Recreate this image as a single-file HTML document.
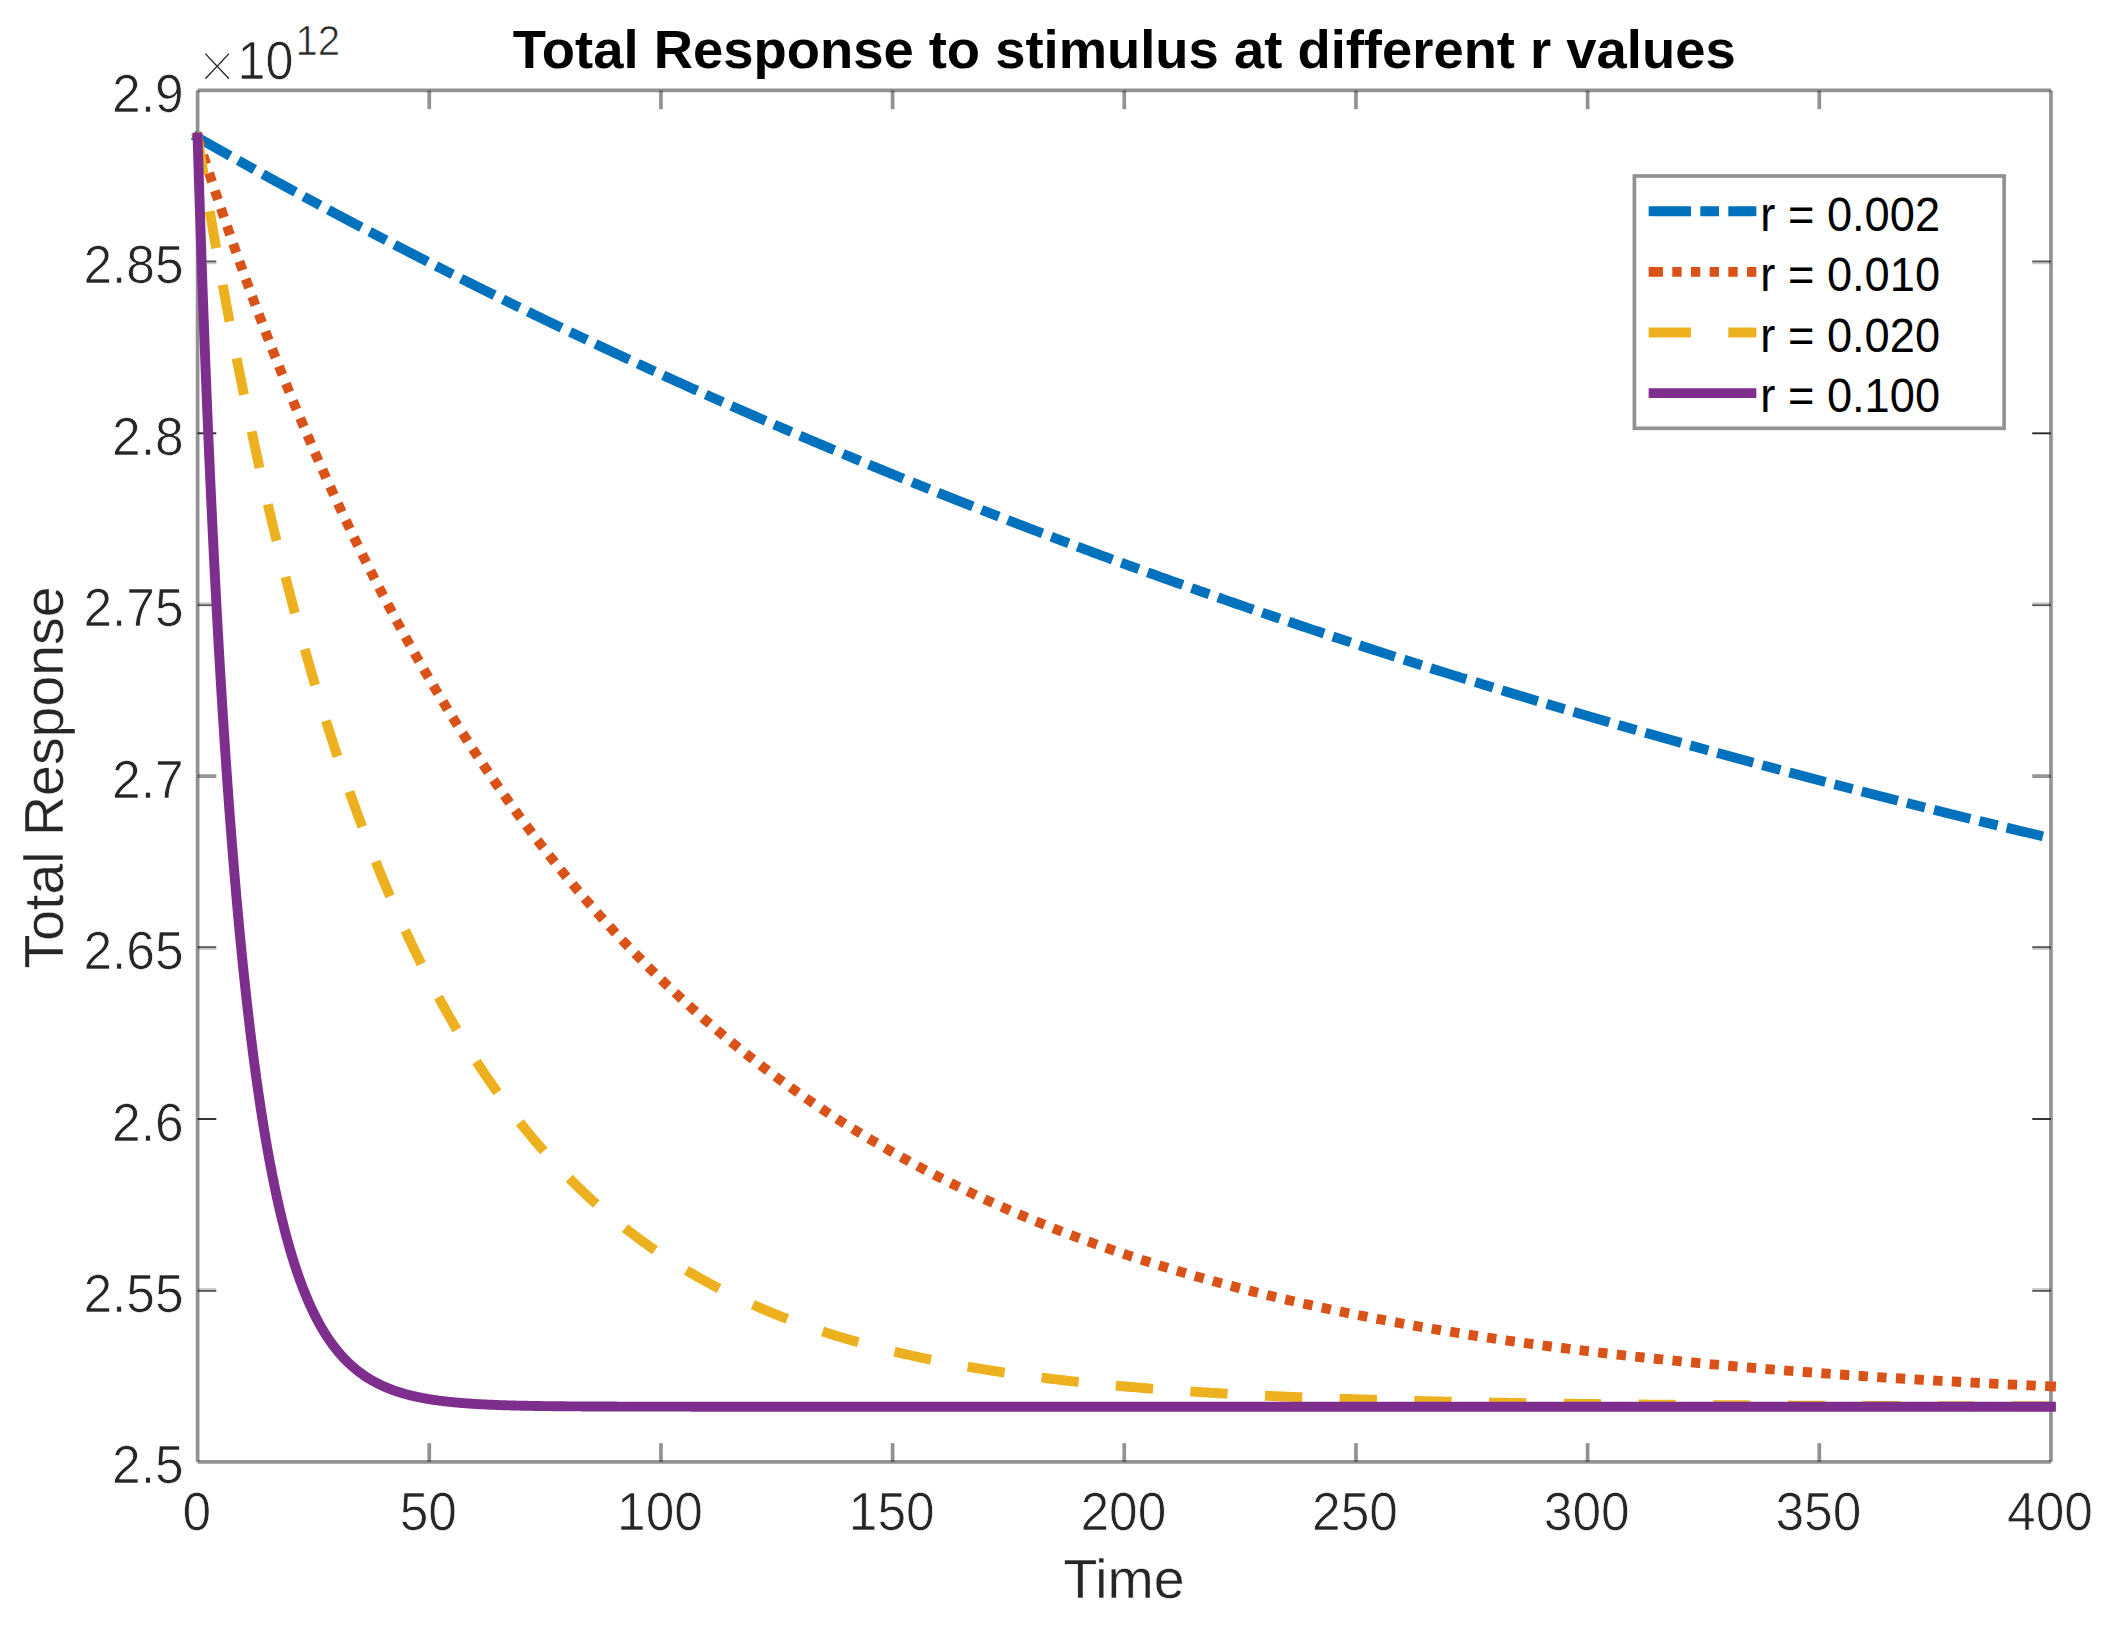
<!DOCTYPE html>
<html lang="en"><head><meta charset="utf-8"><title>Total Response to stimulus at different r values</title>
<style>
html,body{margin:0;padding:0;background:#fff;}
body{width:2121px;height:1630px;overflow:hidden;}
svg{display:block;}
text{font-family:"Liberation Sans",Arial,Helvetica,sans-serif;stroke:#fff;stroke-width:0.7;}
.tk{font-size:50px;fill:#262626;}
.lab{font-size:55px;fill:#262626;stroke-width:0.35;}
.ttl{font-size:54.4px;font-weight:bold;fill:#000;stroke:none;}
.leg{font-size:45px;fill:#000;stroke:none;}
.ax{stroke:#262626;stroke-opacity:0.5;stroke-width:3.7;fill:none;}
.ln{fill:none;stroke-width:9.9;stroke-linejoin:round;}
</style></head><body>
<svg width="2121" height="1630" viewBox="0 0 2121 1630">
<rect x="0" y="0" width="2121" height="1630" fill="#fff"/>

<g class="ax">
<line x1="197.6" y1="1461.87" x2="2050.95" y2="1461.87"/>
<line x1="197.6" y1="90.45" x2="2050.95" y2="90.45"/>
<line x1="197.6" y1="90.45" x2="197.6" y2="1461.87"/>
<line x1="2050.95" y1="90.45" x2="2050.95" y2="1461.87"/>
<line x1="429.27" y1="1461.87" x2="429.27" y2="1443.17"/>
<line x1="429.27" y1="90.45" x2="429.27" y2="109.15"/>
<line x1="660.94" y1="1461.87" x2="660.94" y2="1443.17"/>
<line x1="660.94" y1="90.45" x2="660.94" y2="109.15"/>
<line x1="892.61" y1="1461.87" x2="892.61" y2="1443.17"/>
<line x1="892.61" y1="90.45" x2="892.61" y2="109.15"/>
<line x1="1124.27" y1="1461.87" x2="1124.27" y2="1443.17"/>
<line x1="1124.27" y1="90.45" x2="1124.27" y2="109.15"/>
<line x1="1355.94" y1="1461.87" x2="1355.94" y2="1443.17"/>
<line x1="1355.94" y1="90.45" x2="1355.94" y2="109.15"/>
<line x1="1587.61" y1="1461.87" x2="1587.61" y2="1443.17"/>
<line x1="1587.61" y1="90.45" x2="1587.61" y2="109.15"/>
<line x1="1819.28" y1="1461.87" x2="1819.28" y2="1443.17"/>
<line x1="1819.28" y1="90.45" x2="1819.28" y2="109.15"/>
</g>
<rect x="197.60" y="1288.09" width="18.70" height="1.868" fill="#262626" fill-opacity="0.24"/>
<rect x="2032.25" y="1288.09" width="18.70" height="1.868" fill="#262626" fill-opacity="0.24"/>
<rect x="197.60" y="1289.96" width="18.70" height="1.868" fill="#262626" fill-opacity="0.76"/>
<rect x="2032.25" y="1289.96" width="18.70" height="1.868" fill="#262626" fill-opacity="0.76"/>
<rect x="197.60" y="1118.07" width="18.70" height="1.868" fill="#262626" fill-opacity="0.99"/>
<rect x="2032.25" y="1118.07" width="18.70" height="1.868" fill="#262626" fill-opacity="0.99"/>
<rect x="197.60" y="946.18" width="18.70" height="1.868" fill="#262626" fill-opacity="0.75"/>
<rect x="2032.25" y="946.18" width="18.70" height="1.868" fill="#262626" fill-opacity="0.75"/>
<rect x="197.60" y="948.05" width="18.70" height="1.868" fill="#262626" fill-opacity="0.25"/>
<rect x="2032.25" y="948.05" width="18.70" height="1.868" fill="#262626" fill-opacity="0.25"/>
<rect x="197.60" y="774.28" width="18.70" height="1.868" fill="#262626" fill-opacity="0.50"/>
<rect x="2032.25" y="774.28" width="18.70" height="1.868" fill="#262626" fill-opacity="0.50"/>
<rect x="197.60" y="776.15" width="18.70" height="1.868" fill="#262626" fill-opacity="0.50"/>
<rect x="2032.25" y="776.15" width="18.70" height="1.868" fill="#262626" fill-opacity="0.50"/>
<rect x="197.60" y="602.39" width="18.70" height="1.868" fill="#262626" fill-opacity="0.25"/>
<rect x="2032.25" y="602.39" width="18.70" height="1.868" fill="#262626" fill-opacity="0.25"/>
<rect x="197.60" y="604.26" width="18.70" height="1.868" fill="#262626" fill-opacity="0.75"/>
<rect x="2032.25" y="604.26" width="18.70" height="1.868" fill="#262626" fill-opacity="0.75"/>
<rect x="197.60" y="432.37" width="18.70" height="1.868" fill="#262626" fill-opacity="1.00"/>
<rect x="2032.25" y="432.37" width="18.70" height="1.868" fill="#262626" fill-opacity="1.00"/>
<rect x="197.60" y="260.47" width="18.70" height="1.868" fill="#262626" fill-opacity="0.75"/>
<rect x="2032.25" y="260.47" width="18.70" height="1.868" fill="#262626" fill-opacity="0.75"/>
<rect x="197.60" y="262.34" width="18.70" height="1.868" fill="#262626" fill-opacity="0.25"/>
<rect x="2032.25" y="262.34" width="18.70" height="1.868" fill="#262626" fill-opacity="0.25"/>
<text class="tk" transform="translate(196.70,1530.00) scale(1.03,1.06)" text-anchor="middle">0</text>
<text class="tk" transform="translate(428.37,1530.00) scale(1.03,1.06)" text-anchor="middle">50</text>
<text class="tk" transform="translate(660.04,1530.00) scale(1.03,1.06)" text-anchor="middle">100</text>
<text class="tk" transform="translate(891.71,1530.00) scale(1.03,1.06)" text-anchor="middle">150</text>
<text class="tk" transform="translate(1123.37,1530.00) scale(1.03,1.06)" text-anchor="middle">200</text>
<text class="tk" transform="translate(1355.04,1530.00) scale(1.03,1.06)" text-anchor="middle">250</text>
<text class="tk" transform="translate(1586.71,1530.00) scale(1.03,1.06)" text-anchor="middle">300</text>
<text class="tk" transform="translate(1818.38,1530.00) scale(1.03,1.06)" text-anchor="middle">350</text>
<text class="tk" transform="translate(2050.05,1530.00) scale(1.03,1.06)" text-anchor="middle">400</text>
<text class="tk" transform="translate(183.60,1483.47) scale(1.03,1.065)" text-anchor="end">2.5</text>
<text class="tk" transform="translate(183.60,1312.04) scale(1.03,1.065)" text-anchor="end">2.55</text>
<text class="tk" transform="translate(183.60,1140.61) scale(1.03,1.065)" text-anchor="end">2.6</text>
<text class="tk" transform="translate(183.60,969.19) scale(1.03,1.065)" text-anchor="end">2.65</text>
<text class="tk" transform="translate(183.60,797.76) scale(1.03,1.065)" text-anchor="end">2.7</text>
<text class="tk" transform="translate(183.60,626.33) scale(1.03,1.065)" text-anchor="end">2.75</text>
<text class="tk" transform="translate(183.60,454.91) scale(1.03,1.065)" text-anchor="end">2.8</text>
<text class="tk" transform="translate(183.60,283.48) scale(1.03,1.065)" text-anchor="end">2.85</text>
<text class="tk" transform="translate(183.60,112.05) scale(1.03,1.065)" text-anchor="end">2.9</text>
<text class="tk" transform="translate(196.00,83.20) scale(1,1.05)" text-anchor="start" style="font-family:'DejaVu Sans',sans-serif;font-weight:200;font-size:50.5px;stroke-width:1.1">×</text>
<text class="tk" transform="translate(237.50,79.30) scale(1.005,1.06)" text-anchor="start">10</text>
<text class="tk" transform="translate(295.50,55.20) scale(1.005,1.06)" text-anchor="start" style="font-size:40px">12</text>
<text class="lab" transform="translate(1124.00,1598.00) scale(1.008,1.02)" text-anchor="middle">Time</text>
<text class="lab" transform="translate(62.90,777.40) rotate(-90) scale(1.008,1.02)" text-anchor="middle">Total Response</text>
<text class="ttl" transform="translate(1124.20,68.00)" text-anchor="middle">Total Response to stimulus at different r values</text>
<path class="ln" d="M197.60 137.50 L197.83 137.63 L198.06 137.76 L198.30 137.90 L198.53 138.03 L198.76 138.16 L198.99 138.29 L199.22 138.42 L199.45 138.56 L199.69 138.69 L199.92 138.82 L200.15 138.95 L200.38 139.08 L200.61 139.22 L200.85 139.35 L201.08 139.48 L201.31 139.61 L201.54 139.75 L201.78 139.88 L202.01 140.01 L202.24 140.14 L202.47 140.28 L202.71 140.41 L202.94 140.54 L203.17 140.67 L203.41 140.81 L203.64 140.94 L203.87 141.07 L204.11 141.20 L204.34 141.34 L204.57 141.47 L204.81 141.60 L205.04 141.74 L205.28 141.87 L205.51 142.00 L205.75 142.14 L205.98 142.27 L206.22 142.40 L206.45 142.54 L206.69 142.67 L206.93 142.81 L207.16 142.94 L207.40 143.07 L207.63 143.21 L207.87 143.34 L208.11 143.48 L208.35 143.61 L208.58 143.75 L208.82 143.88 L209.06 144.02 L209.30 144.15 L209.54 144.29 L209.77 144.42 L210.01 144.56 L210.25 144.69 L210.49 144.83 L210.73 144.96 L210.97 145.10 L211.21 145.24 L211.46 145.37 L211.70 145.51 L211.94 145.65 L212.18 145.78 L212.42 145.92 L212.67 146.06 L212.91 146.20 L213.15 146.33 L213.40 146.47 L213.64 146.61 L213.88 146.75 L214.13 146.89 L214.37 147.03 L214.62 147.17 L214.87 147.30 L215.11 147.44 L215.36 147.58 L215.61 147.72 L215.85 147.86 L216.10 148.00 L216.35 148.14 L216.60 148.28 L216.85 148.43 L217.10 148.57 L217.35 148.71 L217.60 148.85 L217.85 148.99 L218.10 149.13 L218.36 149.28 L218.61 149.42 L218.86 149.56 L219.11 149.70 L219.37 149.85 L219.62 149.99 L219.88 150.13 L220.13 150.28 L220.39 150.42 L220.65 150.57 L220.90 150.71 L221.16 150.86 L221.42 151.00 L221.68 151.15 L221.94 151.30 L222.20 151.44 L222.46 151.59 L222.72 151.74 L222.98 151.88 L223.24 152.03 L223.51 152.18 L223.77 152.33 L224.03 152.48 L224.30 152.62 L224.56 152.77 L224.83 152.92 L225.09 153.07 L225.36 153.22 L225.63 153.37 L225.90 153.52 L226.17 153.68 L226.43 153.83 L226.70 153.98 L226.98 154.13 L227.25 154.28 L227.52 154.44 L227.79 154.59 L228.07 154.74 L228.34 154.90 L228.61 155.05 L228.89 155.21 L229.17 155.36 L229.44 155.52 L229.72 155.67 L230.00 155.83 L230.28 155.99 L230.56 156.14 L230.84 156.30 L231.12 156.46 L231.40 156.62 L231.68 156.77 L231.97 156.93 L232.25 157.09 L232.54 157.25 L232.82 157.41 L233.11 157.57 L233.39 157.73 L233.68 157.90 L233.97 158.06 L234.26 158.22 L234.55 158.38 L234.84 158.55 L235.13 158.71 L235.43 158.87 L235.72 159.04 L236.02 159.20 L236.31 159.37 L236.61 159.53 L236.90 159.70 L237.20 159.87 L237.50 160.03 L237.80 160.20 L238.10 160.37 L238.40 160.54 L238.70 160.71 L239.01 160.87 L239.31 161.04 L239.61 161.21 L239.92 161.39 L240.23 161.56 L240.53 161.73 L240.84 161.90 L241.15 162.07 L241.46 162.25 L241.77 162.42 L242.09 162.59 L242.40 162.77 L242.71 162.94 L243.03 163.12 L243.34 163.30 L243.66 163.47 L243.98 163.65 L244.30 163.83 L244.62 164.01 L244.94 164.19 L245.26 164.36 L245.58 164.54 L245.91 164.72 L246.23 164.91 L246.56 165.09 L246.88 165.27 L247.21 165.45 L247.54 165.63 L247.87 165.82 L248.20 166.00 L248.53 166.19 L248.87 166.37 L249.20 166.56 L249.54 166.74 L249.87 166.93 L250.21 167.12 L250.55 167.31 L250.89 167.50 L251.23 167.68 L251.57 167.87 L251.91 168.06 L252.26 168.26 L252.60 168.45 L252.95 168.64 L253.29 168.83 L253.64 169.03 L253.99 169.22 L254.34 169.41 L254.69 169.61 L255.05 169.80 L255.40 170.00 L255.76 170.20 L256.11 170.40 L256.47 170.59 L256.83 170.79 L257.19 170.99 L257.55 171.19 L257.91 171.39 L258.27 171.59 L258.64 171.80 L259.00 172.00 L259.37 172.20 L259.74 172.41 L260.11 172.61 L260.48 172.81 L260.85 173.02 L261.23 173.23 L261.60 173.43 L261.98 173.64 L262.35 173.85 L262.73 174.06 L263.11 174.27 L263.49 174.48 L263.87 174.69 L264.26 174.90 L264.64 175.11 L265.03 175.33 L265.41 175.54 L265.80 175.76 L266.19 175.97 L266.58 176.19 L266.98 176.40 L267.37 176.62 L267.77 176.84 L268.16 177.06 L268.56 177.28 L268.96 177.50 L269.36 177.72 L269.76 177.94 L270.17 178.16 L270.57 178.38 L270.98 178.61 L271.38 178.83 L271.79 179.05 L272.20 179.28 L272.61 179.51 L273.03 179.73 L273.44 179.96 L273.86 180.19 L274.27 180.42 L274.69 180.65 L275.11 180.88 L275.53 181.11 L275.96 181.34 L276.38 181.58 L276.81 181.81 L277.24 182.05 L277.66 182.28 L278.09 182.52 L278.53 182.75 L278.96 182.99 L279.39 183.23 L279.83 183.47 L280.27 183.71 L280.71 183.95 L281.15 184.19 L281.59 184.43 L282.03 184.68 L282.48 184.92 L282.93 185.16 L283.38 185.41 L283.83 185.65 L284.28 185.90 L284.73 186.15 L285.18 186.40 L285.64 186.65 L286.10 186.90 L286.56 187.15 L287.02 187.40 L287.48 187.65 L287.94 187.91 L288.41 188.16 L288.88 188.42 L289.35 188.67 L289.82 188.93 L290.29 189.18 L290.76 189.44 L291.24 189.70 L291.72 189.96 L292.19 190.22 L292.67 190.48 L293.16 190.75 L293.64 191.01 L294.13 191.27 L294.61 191.54 L295.10 191.81 L295.59 192.07 L296.08 192.34 L296.58 192.61 L297.07 192.88 L297.57 193.15 L298.07 193.42 L298.57 193.69 L299.07 193.96 L299.57 194.24 L300.08 194.51 L300.59 194.79 L301.10 195.06 L301.61 195.34 L302.12 195.62 L302.63 195.90 L303.15 196.18 L303.67 196.46 L304.19 196.74 L304.71 197.02 L305.23 197.30 L305.76 197.59 L306.28 197.87 L306.81 198.16 L307.34 198.45 L307.88 198.73 L308.41 199.02 L308.95 199.31 L309.48 199.60 L310.02 199.89 L310.56 200.19 L311.11 200.48 L311.65 200.77 L312.20 201.07 L312.75 201.36 L313.30 201.66 L313.85 201.96 L314.41 202.26 L314.96 202.56 L315.52 202.86 L316.08 203.16 L316.64 203.46 L317.21 203.77 L317.77 204.07 L318.34 204.38 L318.91 204.68 L319.48 204.99 L320.05 205.30 L320.63 205.61 L321.21 205.92 L321.79 206.23 L322.37 206.54 L322.95 206.85 L323.54 207.17 L324.12 207.48 L324.71 207.80 L325.30 208.11 L325.90 208.43 L326.49 208.75 L327.09 209.07 L327.69 209.39 L328.29 209.71 L328.89 210.04 L329.50 210.36 L330.10 210.69 L330.71 211.01 L331.32 211.34 L331.94 211.67 L332.55 211.99 L333.17 212.32 L333.79 212.65 L334.41 212.99 L335.03 213.32 L335.66 213.65 L336.29 213.99 L336.92 214.32 L337.55 214.66 L338.18 215.00 L338.82 215.34 L339.46 215.68 L340.10 216.02 L340.74 216.36 L341.38 216.70 L342.03 217.05 L342.68 217.39 L343.33 217.74 L343.98 218.08 L344.64 218.43 L345.29 218.78 L345.95 219.13 L346.62 219.48 L347.28 219.83 L347.95 220.19 L348.61 220.54 L349.28 220.90 L349.96 221.25 L350.63 221.61 L351.31 221.97 L351.99 222.33 L352.67 222.69 L353.35 223.05 L354.04 223.41 L354.73 223.78 L355.42 224.14 L356.11 224.51 L356.80 224.88 L357.50 225.24 L358.20 225.61 L358.90 225.98 L359.61 226.35 L360.31 226.73 L361.02 227.10 L361.73 227.47 L362.44 227.85 L363.16 228.23 L363.88 228.60 L364.60 228.98 L365.32 229.36 L366.04 229.74 L366.77 230.13 L367.50 230.51 L368.23 230.89 L368.96 231.28 L369.70 231.66 L370.44 232.05 L371.18 232.44 L371.92 232.83 L372.67 233.22 L373.42 233.61 L374.17 234.01 L374.92 234.40 L375.68 234.80 L376.43 235.19 L377.19 235.59 L377.96 235.99 L378.72 236.39 L379.49 236.79 L380.26 237.19 L381.03 237.59 L381.80 238.00 L382.58 238.40 L383.36 238.81 L384.14 239.22 L384.93 239.62 L385.71 240.03 L386.50 240.45 L387.29 240.86 L388.09 241.27 L388.88 241.68 L389.68 242.10 L390.49 242.52 L391.29 242.93 L392.10 243.35 L392.90 243.77 L393.72 244.19 L394.53 244.62 L395.35 245.04 L396.17 245.46 L396.99 245.89 L397.81 246.32 L398.64 246.74 L399.47 247.17 L400.30 247.60 L401.14 248.04 L401.97 248.47 L402.81 248.90 L403.65 249.34 L404.50 249.77 L405.35 250.21 L406.20 250.65 L407.05 251.09 L407.90 251.53 L408.76 251.97 L409.62 252.41 L410.49 252.86 L411.35 253.30 L412.22 253.75 L413.09 254.20 L413.97 254.65 L414.84 255.10 L415.72 255.55 L416.60 256.00 L417.49 256.45 L418.37 256.91 L419.26 257.36 L420.16 257.82 L421.05 258.28 L421.95 258.74 L422.85 259.20 L423.75 259.66 L424.66 260.12 L425.57 260.59 L426.48 261.05 L427.39 261.52 L428.31 261.99 L429.23 262.46 L430.15 262.93 L431.08 263.40 L432.00 263.87 L432.93 264.35 L433.87 264.82 L434.80 265.30 L435.74 265.77 L436.68 266.25 L437.63 266.73 L438.58 267.21 L439.53 267.70 L440.48 268.18 L441.43 268.66 L442.39 269.15 L443.35 269.64 L444.32 270.12 L445.28 270.61 L446.25 271.10 L447.23 271.60 L448.20 272.09 L449.18 272.58 L450.16 273.08 L451.15 273.58 L452.13 274.07 L453.12 274.57 L454.12 275.07 L455.11 275.57 L456.11 276.08 L457.11 276.58 L458.12 277.09 L459.12 277.59 L460.13 278.10 L461.15 278.61 L462.16 279.12 L463.18 279.63 L464.20 280.14 L465.23 280.66 L466.25 281.17 L467.29 281.69 L468.32 282.21 L469.36 282.72 L470.40 283.24 L471.44 283.76 L472.48 284.29 L473.53 284.81 L474.58 285.34 L475.64 285.86 L476.70 286.39 L477.76 286.92 L478.82 287.45 L479.89 287.98 L480.96 288.51 L482.03 289.04 L483.10 289.58 L484.18 290.11 L485.26 290.65 L486.35 291.19 L487.44 291.73 L488.53 292.27 L489.62 292.81 L490.72 293.35 L491.82 293.90 L492.92 294.44 L494.03 294.99 L495.14 295.54 L496.25 296.09 L497.37 296.64 L498.48 297.19 L499.61 297.74 L500.73 298.30 L501.86 298.85 L502.99 299.41 L504.12 299.97 L505.26 300.53 L506.40 301.09 L507.55 301.65 L508.69 302.21 L509.84 302.78 L511.00 303.34 L512.15 303.91 L513.31 304.48 L514.48 305.05 L515.64 305.62 L516.81 306.19 L517.98 306.76 L519.16 307.34 L520.34 307.91 L521.52 308.49 L522.71 309.07 L523.89 309.65 L525.09 310.23 L526.28 310.81 L527.48 311.39 L528.68 311.98 L529.89 312.56 L531.09 313.15 L532.31 313.74 L533.52 314.33 L534.74 314.92 L535.96 315.51 L537.18 316.10 L538.41 316.70 L539.64 317.29 L540.88 317.89 L542.11 318.49 L543.36 319.09 L544.60 319.69 L545.85 320.29 L547.10 320.89 L548.35 321.49 L549.61 322.10 L550.87 322.71 L552.14 323.31 L553.40 323.92 L554.67 324.53 L555.95 325.15 L557.23 325.76 L558.51 326.37 L559.79 326.99 L561.08 327.61 L562.37 328.22 L563.67 328.84 L564.97 329.46 L566.27 330.08 L567.57 330.71 L568.88 331.33 L570.19 331.96 L571.51 332.58 L572.83 333.21 L574.15 333.84 L575.48 334.47 L576.81 335.10 L578.14 335.74 L579.47 336.37 L580.81 337.00 L582.16 337.64 L583.50 338.28 L584.85 338.92 L586.21 339.56 L587.56 340.20 L588.93 340.84 L590.29 341.49 L591.66 342.13 L593.03 342.78 L594.40 343.43 L595.78 344.08 L597.16 344.73 L598.55 345.38 L599.94 346.03 L601.33 346.68 L602.73 347.34 L604.13 348.00 L605.53 348.65 L606.94 349.31 L608.35 349.97 L609.76 350.63 L611.18 351.30 L612.60 351.96 L614.02 352.62 L615.45 353.29 L616.89 353.96 L618.32 354.63 L619.76 355.30 L621.20 355.97 L622.65 356.64 L624.10 357.31 L625.55 357.99 L627.01 358.67 L628.47 359.34 L629.94 360.02 L631.41 360.70 L632.88 361.38 L634.35 362.06 L635.83 362.75 L637.32 363.43 L638.80 364.12 L640.30 364.81 L641.79 365.49 L643.29 366.18 L644.79 366.87 L646.30 367.57 L647.80 368.26 L649.32 368.95 L650.83 369.65 L652.36 370.35 L653.88 371.04 L655.41 371.74 L656.94 372.44 L658.48 373.15 L660.01 373.85 L661.56 374.55 L663.11 375.26 L664.66 375.96 L666.21 376.67 L667.77 377.38 L669.33 378.09 L670.90 378.80 L672.47 379.51 L674.04 380.23 L675.62 380.94 L677.20 381.66 L678.79 382.38 L680.37 383.09 L681.97 383.81 L683.56 384.54 L685.16 385.26 L686.77 385.98 L688.38 386.71 L689.99 387.43 L691.61 388.16 L693.23 388.89 L694.85 389.61 L696.48 390.35 L698.11 391.08 L699.75 391.81 L701.39 392.54 L703.03 393.28 L704.68 394.01 L706.33 394.75 L707.98 395.49 L709.64 396.23 L711.31 396.97 L712.97 397.71 L714.64 398.46 L716.32 399.20 L718.00 399.95 L719.68 400.69 L721.37 401.44 L723.06 402.19 L724.76 402.94 L726.45 403.69 L728.16 404.45 L729.86 405.20 L731.58 405.95 L733.29 406.71 L735.01 407.47 L736.73 408.23 L738.46 408.99 L740.19 409.75 L741.93 410.51 L743.67 411.27 L745.41 412.04 L747.16 412.80 L748.91 413.57 L750.67 414.34 L752.43 415.10 L754.19 415.87 L755.96 416.64 L757.73 417.42 L759.51 418.19 L761.29 418.96 L763.07 419.74 L764.86 420.52 L766.65 421.29 L768.45 422.07 L770.25 422.85 L772.06 423.63 L773.86 424.42 L775.68 425.20 L777.50 425.99 L779.32 426.77 L781.14 427.56 L782.97 428.35 L784.81 429.13 L786.65 429.92 L788.49 430.72 L790.34 431.51 L792.19 432.30 L794.04 433.10 L795.90 433.89 L797.77 434.69 L799.63 435.49 L801.51 436.28 L803.38 437.08 L805.26 437.89 L807.15 438.69 L809.04 439.49 L810.93 440.30 L812.83 441.10 L814.73 441.91 L816.64 442.71 L818.55 443.52 L820.46 444.33 L822.38 445.14 L824.31 445.96 L826.23 446.77 L828.17 447.58 L830.10 448.40 L832.04 449.21 L833.99 450.03 L835.94 450.85 L837.89 451.67 L839.85 452.49 L841.81 453.31 L843.78 454.13 L845.75 454.96 L847.72 455.78 L849.70 456.61 L851.69 457.43 L853.68 458.26 L855.67 459.09 L857.67 459.92 L859.67 460.75 L861.68 461.58 L863.69 462.41 L865.70 463.25 L867.72 464.08 L869.74 464.92 L871.77 465.76 L873.81 466.59 L875.84 467.43 L877.88 468.27 L879.93 469.11 L881.98 469.95 L884.04 470.80 L886.10 471.64 L888.16 472.49 L890.23 473.33 L892.30 474.18 L894.38 475.03 L896.46 475.88 L898.55 476.73 L900.64 477.58 L902.73 478.43 L904.83 479.28 L906.94 480.14 L909.05 480.99 L911.16 481.85 L913.28 482.70 L915.40 483.56 L917.53 484.42 L919.66 485.28 L921.80 486.14 L923.94 487.00 L926.08 487.86 L928.23 488.73 L930.39 489.59 L932.55 490.46 L934.71 491.32 L936.88 492.19 L939.05 493.06 L941.23 493.93 L943.41 494.80 L945.60 495.67 L947.79 496.54 L949.99 497.42 L952.19 498.29 L954.39 499.16 L956.60 500.04 L958.82 500.92 L961.04 501.79 L963.26 502.67 L965.49 503.55 L967.72 504.43 L969.96 505.31 L972.20 506.20 L974.45 507.08 L976.70 507.96 L978.96 508.85 L981.22 509.73 L983.49 510.62 L985.76 511.51 L988.03 512.39 L990.31 513.28 L992.60 514.17 L994.89 515.07 L997.18 515.96 L999.48 516.85 L1001.79 517.74 L1004.10 518.64 L1006.41 519.53 L1008.73 520.43 L1011.05 521.33 L1013.38 522.22 L1015.71 523.12 L1018.05 524.02 L1020.39 524.92 L1022.74 525.82 L1025.09 526.73 L1027.45 527.63 L1029.81 528.53 L1032.18 529.44 L1034.55 530.34 L1036.92 531.25 L1039.30 532.16 L1041.69 533.06 L1044.08 533.97 L1046.48 534.88 L1048.88 535.79 L1051.28 536.70 L1053.69 537.62 L1056.11 538.53 L1058.53 539.44 L1060.95 540.36 L1063.38 541.27 L1065.82 542.19 L1068.26 543.10 L1070.70 544.02 L1073.15 544.94 L1075.61 545.86 L1078.06 546.78 L1080.53 547.70 L1083.00 548.62 L1085.47 549.54 L1087.95 550.46 L1090.44 551.39 L1092.92 552.31 L1095.42 553.24 L1097.92 554.16 L1100.42 555.09 L1102.93 556.02 L1105.44 556.94 L1107.96 557.87 L1110.49 558.80 L1113.02 559.73 L1115.55 560.66 L1118.09 561.60 L1120.63 562.53 L1123.18 563.46 L1125.74 564.40 L1128.30 565.33 L1130.86 566.26 L1133.43 567.20 L1136.00 568.14 L1138.58 569.07 L1141.17 570.01 L1143.76 570.95 L1146.35 571.89 L1148.95 572.83 L1151.56 573.77 L1154.17 574.71 L1156.78 575.65 L1159.40 576.60 L1162.03 577.54 L1164.66 578.48 L1167.29 579.43 L1169.93 580.37 L1172.58 581.32 L1175.23 582.27 L1177.89 583.21 L1180.55 584.16 L1183.21 585.11 L1185.88 586.06 L1188.56 587.01 L1191.24 587.96 L1193.93 588.91 L1196.62 589.86 L1199.32 590.82 L1202.02 591.77 L1204.73 592.72 L1207.44 593.68 L1210.16 594.63 L1212.88 595.59 L1215.61 596.54 L1218.35 597.50 L1221.09 598.46 L1223.83 599.41 L1226.58 600.37 L1229.33 601.33 L1232.09 602.29 L1234.86 603.25 L1237.63 604.21 L1240.41 605.17 L1243.19 606.13 L1245.97 607.10 L1248.77 608.06 L1251.56 609.02 L1254.37 609.99 L1257.17 610.95 L1259.99 611.92 L1262.80 612.88 L1265.63 613.85 L1268.46 614.81 L1271.29 615.78 L1274.13 616.75 L1276.98 617.72 L1279.83 618.69 L1282.68 619.65 L1285.54 620.62 L1288.41 621.59 L1291.28 622.56 L1294.16 623.54 L1297.04 624.51 L1299.93 625.48 L1302.82 626.45 L1305.72 627.43 L1308.62 628.40 L1311.53 629.37 L1314.45 630.35 L1317.37 631.32 L1320.30 632.30 L1323.23 633.27 L1326.16 634.25 L1329.11 635.23 L1332.05 636.20 L1335.01 637.18 L1337.96 638.16 L1340.93 639.14 L1343.90 640.12 L1346.87 641.10 L1349.85 642.08 L1352.84 643.06 L1355.83 644.04 L1358.83 645.02 L1361.83 646.00 L1364.84 646.98 L1367.85 647.96 L1370.87 648.95 L1373.89 649.93 L1376.92 650.91 L1379.96 651.90 L1383.00 652.88 L1386.05 653.87 L1389.10 654.85 L1392.16 655.84 L1395.22 656.82 L1398.29 657.81 L1401.36 658.79 L1404.44 659.78 L1407.53 660.77 L1410.62 661.75 L1413.72 662.74 L1416.82 663.73 L1419.93 664.72 L1423.04 665.71 L1426.16 666.70 L1429.28 667.69 L1432.41 668.68 L1435.55 669.67 L1438.69 670.66 L1441.84 671.65 L1444.99 672.64 L1448.15 673.63 L1451.31 674.62 L1454.48 675.61 L1457.66 676.60 L1460.84 677.60 L1464.03 678.59 L1467.22 679.58 L1470.42 680.58 L1473.62 681.57 L1476.83 682.56 L1480.05 683.56 L1483.27 684.55 L1486.50 685.55 L1489.73 686.54 L1492.97 687.54 L1496.21 688.53 L1499.46 689.53 L1502.72 690.52 L1505.98 691.52 L1509.25 692.51 L1512.52 693.51 L1515.80 694.51 L1519.08 695.50 L1522.37 696.50 L1525.67 697.50 L1528.97 698.50 L1532.28 699.49 L1535.59 700.49 L1538.91 701.49 L1542.24 702.49 L1545.57 703.49 L1548.90 704.49 L1552.25 705.48 L1555.59 706.48 L1558.95 707.48 L1562.31 708.48 L1565.67 709.48 L1569.05 710.48 L1572.42 711.48 L1575.81 712.48 L1579.20 713.48 L1582.59 714.48 L1585.99 715.48 L1589.40 716.48 L1592.81 717.48 L1596.23 718.48 L1599.66 719.48 L1603.09 720.48 L1606.52 721.48 L1609.96 722.48 L1613.41 723.49 L1616.87 724.49 L1620.33 725.49 L1623.79 726.49 L1627.27 727.49 L1630.74 728.49 L1634.23 729.49 L1637.72 730.50 L1641.21 731.50 L1644.72 732.50 L1648.22 733.50 L1651.74 734.50 L1655.26 735.51 L1658.78 736.51 L1662.32 737.51 L1665.85 738.51 L1669.40 739.51 L1672.95 740.52 L1676.50 741.52 L1680.07 742.52 L1683.63 743.52 L1687.21 744.52 L1690.79 745.53 L1694.38 746.53 L1697.97 747.53 L1701.57 748.53 L1705.17 749.54 L1708.78 750.54 L1712.40 751.54 L1716.02 752.54 L1719.65 753.54 L1723.28 754.55 L1726.93 755.55 L1730.57 756.55 L1734.23 757.55 L1737.88 758.56 L1741.55 759.56 L1745.22 760.56 L1748.90 761.56 L1752.58 762.56 L1756.27 763.56 L1759.97 764.57 L1763.67 765.57 L1767.38 766.57 L1771.10 767.57 L1774.82 768.57 L1778.54 769.57 L1782.28 770.57 L1786.02 771.58 L1789.76 772.58 L1793.51 773.58 L1797.27 774.58 L1801.04 775.58 L1804.81 776.58 L1808.58 777.58 L1812.37 778.58 L1816.16 779.58 L1819.95 780.58 L1823.75 781.58 L1827.56 782.58 L1831.37 783.58 L1835.19 784.58 L1839.02 785.58 L1842.85 786.58 L1846.69 787.58 L1850.54 788.58 L1854.39 789.57 L1858.25 790.57 L1862.11 791.57 L1865.98 792.57 L1869.86 793.57 L1873.74 794.57 L1877.63 795.56 L1881.53 796.56 L1885.43 797.56 L1889.34 798.55 L1893.26 799.55 L1897.18 800.55 L1901.11 801.54 L1905.04 802.54 L1908.98 803.54 L1912.93 804.53 L1916.88 805.53 L1920.84 806.52 L1924.81 807.52 L1928.78 808.51 L1932.76 809.51 L1936.74 810.50 L1940.73 811.50 L1944.73 812.49 L1948.74 813.48 L1952.75 814.48 L1956.76 815.47 L1960.79 816.46 L1964.82 817.45 L1968.85 818.45 L1972.90 819.44 L1976.95 820.43 L1981.00 821.42 L1985.07 822.41 L1989.13 823.40 L1993.21 824.39 L1997.29 825.38 L2001.38 826.37 L2005.48 827.36 L2009.58 828.35 L2013.68 829.34 L2017.80 830.33 L2021.92 831.32 L2026.05 832.30 L2030.18 833.29 L2034.32 834.28 L2038.47 835.26 L2042.62 836.25 L2046.78 837.24 L2050.95 838.22" stroke="#0072BD" stroke-dasharray="37.360 9.340 18.680 9.340"/>
<path class="ln" d="M193.30 135.05 L198.03 137.75" stroke="#0072BD"/>
<path class="ln" d="M197.60 137.50 L197.83 138.23 L198.06 138.95 L198.30 139.68 L198.53 140.40 L198.76 141.13 L198.99 141.85 L199.22 142.57 L199.45 143.30 L199.69 144.02 L199.92 144.74 L200.15 145.46 L200.38 146.19 L200.61 146.91 L200.85 147.63 L201.08 148.35 L201.31 149.07 L201.54 149.79 L201.78 150.51 L202.01 151.24 L202.24 151.96 L202.47 152.68 L202.71 153.40 L202.94 154.12 L203.17 154.84 L203.41 155.56 L203.64 156.28 L203.87 157.00 L204.11 157.72 L204.34 158.44 L204.57 159.16 L204.81 159.88 L205.04 160.60 L205.28 161.32 L205.51 162.04 L205.75 162.76 L205.98 163.48 L206.22 164.20 L206.45 164.92 L206.69 165.64 L206.93 166.36 L207.16 167.08 L207.40 167.80 L207.63 168.53 L207.87 169.25 L208.11 169.97 L208.35 170.69 L208.58 171.42 L208.82 172.14 L209.06 172.86 L209.30 173.59 L209.54 174.31 L209.77 175.04 L210.01 175.76 L210.25 176.49 L210.49 177.21 L210.73 177.94 L210.97 178.67 L211.21 179.39 L211.46 180.12 L211.70 180.85 L211.94 181.58 L212.18 182.31 L212.42 183.04 L212.67 183.77 L212.91 184.50 L213.15 185.23 L213.40 185.96 L213.64 186.69 L213.88 187.43 L214.13 188.16 L214.37 188.89 L214.62 189.63 L214.87 190.37 L215.11 191.10 L215.36 191.84 L215.61 192.58 L215.85 193.32 L216.10 194.06 L216.35 194.80 L216.60 195.54 L216.85 196.28 L217.10 197.02 L217.35 197.76 L217.60 198.51 L217.85 199.25 L218.10 200.00 L218.36 200.75 L218.61 201.49 L218.86 202.24 L219.11 202.99 L219.37 203.74 L219.62 204.50 L219.88 205.25 L220.13 206.00 L220.39 206.76 L220.65 207.51 L220.90 208.27 L221.16 209.03 L221.42 209.78 L221.68 210.54 L221.94 211.30 L222.20 212.07 L222.46 212.83 L222.72 213.59 L222.98 214.36 L223.24 215.12 L223.51 215.89 L223.77 216.66 L224.03 217.43 L224.30 218.20 L224.56 218.97 L224.83 219.75 L225.09 220.52 L225.36 221.30 L225.63 222.07 L225.90 222.85 L226.17 223.63 L226.43 224.41 L226.70 225.19 L226.98 225.98 L227.25 226.76 L227.52 227.55 L227.79 228.34 L228.07 229.12 L228.34 229.91 L228.61 230.71 L228.89 231.50 L229.17 232.29 L229.44 233.09 L229.72 233.89 L230.00 234.68 L230.28 235.48 L230.56 236.29 L230.84 237.09 L231.12 237.89 L231.40 238.70 L231.68 239.51 L231.97 240.32 L232.25 241.13 L232.54 241.94 L232.82 242.75 L233.11 243.57 L233.39 244.38 L233.68 245.20 L233.97 246.02 L234.26 246.84 L234.55 247.67 L234.84 248.49 L235.13 249.32 L235.43 250.15 L235.72 250.98 L236.02 251.81 L236.31 252.64 L236.61 253.47 L236.90 254.31 L237.20 255.15 L237.50 255.99 L237.80 256.83 L238.10 257.67 L238.40 258.52 L238.70 259.37 L239.01 260.21 L239.31 261.07 L239.61 261.92 L239.92 262.77 L240.23 263.63 L240.53 264.49 L240.84 265.34 L241.15 266.21 L241.46 267.07 L241.77 267.93 L242.09 268.80 L242.40 269.67 L242.71 270.54 L243.03 271.41 L243.34 272.29 L243.66 273.16 L243.98 274.04 L244.30 274.92 L244.62 275.81 L244.94 276.69 L245.26 277.58 L245.58 278.46 L245.91 279.35 L246.23 280.25 L246.56 281.14 L246.88 282.04 L247.21 282.93 L247.54 283.83 L247.87 284.74 L248.20 285.64 L248.53 286.55 L248.87 287.45 L249.20 288.36 L249.54 289.28 L249.87 290.19 L250.21 291.11 L250.55 292.03 L250.89 292.95 L251.23 293.87 L251.57 294.80 L251.91 295.72 L252.26 296.65 L252.60 297.58 L252.95 298.52 L253.29 299.45 L253.64 300.39 L253.99 301.33 L254.34 302.27 L254.69 303.22 L255.05 304.16 L255.40 305.11 L255.76 306.06 L256.11 307.02 L256.47 307.97 L256.83 308.93 L257.19 309.89 L257.55 310.85 L257.91 311.81 L258.27 312.78 L258.64 313.75 L259.00 314.72 L259.37 315.69 L259.74 316.67 L260.11 317.65 L260.48 318.63 L260.85 319.61 L261.23 320.59 L261.60 321.58 L261.98 322.57 L262.35 323.56 L262.73 324.56 L263.11 325.55 L263.49 326.55 L263.87 327.55 L264.26 328.55 L264.64 329.56 L265.03 330.57 L265.41 331.58 L265.80 332.59 L266.19 333.61 L266.58 334.62 L266.98 335.64 L267.37 336.66 L267.77 337.69 L268.16 338.72 L268.56 339.75 L268.96 340.78 L269.36 341.81 L269.76 342.85 L270.17 343.89 L270.57 344.93 L270.98 345.97 L271.38 347.02 L271.79 348.07 L272.20 349.12 L272.61 350.17 L273.03 351.23 L273.44 352.28 L273.86 353.34 L274.27 354.41 L274.69 355.47 L275.11 356.54 L275.53 357.61 L275.96 358.69 L276.38 359.76 L276.81 360.84 L277.24 361.92 L277.66 363.00 L278.09 364.09 L278.53 365.17 L278.96 366.26 L279.39 367.36 L279.83 368.45 L280.27 369.55 L280.71 370.65 L281.15 371.75 L281.59 372.86 L282.03 373.97 L282.48 375.08 L282.93 376.19 L283.38 377.30 L283.83 378.42 L284.28 379.54 L284.73 380.66 L285.18 381.79 L285.64 382.92 L286.10 384.05 L286.56 385.18 L287.02 386.31 L287.48 387.45 L287.94 388.59 L288.41 389.74 L288.88 390.88 L289.35 392.03 L289.82 393.18 L290.29 394.33 L290.76 395.49 L291.24 396.64 L291.72 397.80 L292.19 398.97 L292.67 400.13 L293.16 401.30 L293.64 402.47 L294.13 403.64 L294.61 404.82 L295.10 406.00 L295.59 407.18 L296.08 408.36 L296.58 409.55 L297.07 410.73 L297.57 411.92 L298.07 413.12 L298.57 414.31 L299.07 415.51 L299.57 416.71 L300.08 417.92 L300.59 419.12 L301.10 420.33 L301.61 421.54 L302.12 422.75 L302.63 423.97 L303.15 425.19 L303.67 426.41 L304.19 427.63 L304.71 428.86 L305.23 430.08 L305.76 431.31 L306.28 432.55 L306.81 433.78 L307.34 435.02 L307.88 436.26 L308.41 437.51 L308.95 438.75 L309.48 440.00 L310.02 441.25 L310.56 442.50 L311.11 443.76 L311.65 445.02 L312.20 446.28 L312.75 447.54 L313.30 448.80 L313.85 450.07 L314.41 451.34 L314.96 452.62 L315.52 453.89 L316.08 455.17 L316.64 456.45 L317.21 457.73 L317.77 459.02 L318.34 460.30 L318.91 461.59 L319.48 462.89 L320.05 464.18 L320.63 465.48 L321.21 466.78 L321.79 468.08 L322.37 469.38 L322.95 470.69 L323.54 472.00 L324.12 473.31 L324.71 474.62 L325.30 475.94 L325.90 477.26 L326.49 478.58 L327.09 479.90 L327.69 481.23 L328.29 482.56 L328.89 483.89 L329.50 485.22 L330.10 486.55 L330.71 487.89 L331.32 489.23 L331.94 490.57 L332.55 491.92 L333.17 493.27 L333.79 494.61 L334.41 495.97 L335.03 497.32 L335.66 498.68 L336.29 500.03 L336.92 501.39 L337.55 502.76 L338.18 504.12 L338.82 505.49 L339.46 506.86 L340.10 508.23 L340.74 509.60 L341.38 510.98 L342.03 512.36 L342.68 513.74 L343.33 515.12 L343.98 516.51 L344.64 517.90 L345.29 519.28 L345.95 520.68 L346.62 522.07 L347.28 523.47 L347.95 524.86 L348.61 526.27 L349.28 527.67 L349.96 529.07 L350.63 530.48 L351.31 531.89 L351.99 533.30 L352.67 534.71 L353.35 536.13 L354.04 537.54 L354.73 538.96 L355.42 540.39 L356.11 541.81 L356.80 543.23 L357.50 544.66 L358.20 546.09 L358.90 547.52 L359.61 548.96 L360.31 550.39 L361.02 551.83 L361.73 553.27 L362.44 554.71 L363.16 556.16 L363.88 557.60 L364.60 559.05 L365.32 560.50 L366.04 561.95 L366.77 563.41 L367.50 564.86 L368.23 566.32 L368.96 567.78 L369.70 569.24 L370.44 570.70 L371.18 572.17 L371.92 573.63 L372.67 575.10 L373.42 576.57 L374.17 578.05 L374.92 579.52 L375.68 581.00 L376.43 582.47 L377.19 583.95 L377.96 585.43 L378.72 586.92 L379.49 588.40 L380.26 589.89 L381.03 591.38 L381.80 592.87 L382.58 594.36 L383.36 595.85 L384.14 597.35 L384.93 598.85 L385.71 600.34 L386.50 601.84 L387.29 603.35 L388.09 604.85 L388.88 606.36 L389.68 607.86 L390.49 609.37 L391.29 610.88 L392.10 612.39 L392.90 613.91 L393.72 615.42 L394.53 616.94 L395.35 618.46 L396.17 619.97 L396.99 621.50 L397.81 623.02 L398.64 624.54 L399.47 626.07 L400.30 627.59 L401.14 629.12 L401.97 630.65 L402.81 632.18 L403.65 633.72 L404.50 635.25 L405.35 636.79 L406.20 638.32 L407.05 639.86 L407.90 641.40 L408.76 642.94 L409.62 644.49 L410.49 646.03 L411.35 647.57 L412.22 649.12 L413.09 650.67 L413.97 652.22 L414.84 653.77 L415.72 655.32 L416.60 656.87 L417.49 658.42 L418.37 659.98 L419.26 661.54 L420.16 663.09 L421.05 664.65 L421.95 666.21 L422.85 667.77 L423.75 669.33 L424.66 670.90 L425.57 672.46 L426.48 674.03 L427.39 675.59 L428.31 677.16 L429.23 678.73 L430.15 680.30 L431.08 681.87 L432.00 683.44 L432.93 685.01 L433.87 686.59 L434.80 688.16 L435.74 689.74 L436.68 691.31 L437.63 692.89 L438.58 694.47 L439.53 696.05 L440.48 697.63 L441.43 699.21 L442.39 700.79 L443.35 702.37 L444.32 703.95 L445.28 705.54 L446.25 707.12 L447.23 708.71 L448.20 710.29 L449.18 711.88 L450.16 713.47 L451.15 715.06 L452.13 716.65 L453.12 718.24 L454.12 719.83 L455.11 721.42 L456.11 723.01 L457.11 724.60 L458.12 726.20 L459.12 727.79 L460.13 729.39 L461.15 730.98 L462.16 732.58 L463.18 734.17 L464.20 735.77 L465.23 737.37 L466.25 738.96 L467.29 740.56 L468.32 742.16 L469.36 743.76 L470.40 745.36 L471.44 746.96 L472.48 748.56 L473.53 750.16 L474.58 751.76 L475.64 753.36 L476.70 754.96 L477.76 756.57 L478.82 758.17 L479.89 759.77 L480.96 761.37 L482.03 762.98 L483.10 764.58 L484.18 766.18 L485.26 767.79 L486.35 769.39 L487.44 771.00 L488.53 772.60 L489.62 774.21 L490.72 775.81 L491.82 777.42 L492.92 779.02 L494.03 780.63 L495.14 782.23 L496.25 783.84 L497.37 785.44 L498.48 787.05 L499.61 788.65 L500.73 790.26 L501.86 791.86 L502.99 793.47 L504.12 795.07 L505.26 796.68 L506.40 798.28 L507.55 799.89 L508.69 801.50 L509.84 803.10 L511.00 804.71 L512.15 806.31 L513.31 807.91 L514.48 809.52 L515.64 811.12 L516.81 812.73 L517.98 814.33 L519.16 815.93 L520.34 817.54 L521.52 819.14 L522.71 820.74 L523.89 822.34 L525.09 823.95 L526.28 825.55 L527.48 827.15 L528.68 828.75 L529.89 830.35 L531.09 831.95 L532.31 833.55 L533.52 835.15 L534.74 836.75 L535.96 838.35 L537.18 839.95 L538.41 841.54 L539.64 843.14 L540.88 844.74 L542.11 846.33 L543.36 847.93 L544.60 849.52 L545.85 851.12 L547.10 852.71 L548.35 854.30 L549.61 855.90 L550.87 857.49 L552.14 859.08 L553.40 860.67 L554.67 862.26 L555.95 863.85 L557.23 865.44 L558.51 867.02 L559.79 868.61 L561.08 870.20 L562.37 871.78 L563.67 873.36 L564.97 874.95 L566.27 876.53 L567.57 878.11 L568.88 879.69 L570.19 881.27 L571.51 882.85 L572.83 884.43 L574.15 886.01 L575.48 887.59 L576.81 889.16 L578.14 890.74 L579.47 892.31 L580.81 893.88 L582.16 895.45 L583.50 897.02 L584.85 898.59 L586.21 900.16 L587.56 901.73 L588.93 903.29 L590.29 904.86 L591.66 906.42 L593.03 907.99 L594.40 909.55 L595.78 911.11 L597.16 912.67 L598.55 914.23 L599.94 915.78 L601.33 917.34 L602.73 918.89 L604.13 920.45 L605.53 922.00 L606.94 923.55 L608.35 925.10 L609.76 926.65 L611.18 928.19 L612.60 929.74 L614.02 931.28 L615.45 932.83 L616.89 934.37 L618.32 935.91 L619.76 937.44 L621.20 938.98 L622.65 940.52 L624.10 942.05 L625.55 943.58 L627.01 945.12 L628.47 946.65 L629.94 948.17 L631.41 949.70 L632.88 951.23 L634.35 952.75 L635.83 954.27 L637.32 955.79 L638.80 957.31 L640.30 958.83 L641.79 960.34 L643.29 961.86 L644.79 963.37 L646.30 964.88 L647.80 966.39 L649.32 967.90 L650.83 969.40 L652.36 970.91 L653.88 972.41 L655.41 973.91 L656.94 975.41 L658.48 976.90 L660.01 978.40 L661.56 979.89 L663.11 981.38 L664.66 982.87 L666.21 984.36 L667.77 985.85 L669.33 987.33 L670.90 988.81 L672.47 990.29 L674.04 991.77 L675.62 993.25 L677.20 994.72 L678.79 996.19 L680.37 997.66 L681.97 999.13 L683.56 1000.60 L685.16 1002.06 L686.77 1003.53 L688.38 1004.99 L689.99 1006.45 L691.61 1007.90 L693.23 1009.36 L694.85 1010.81 L696.48 1012.26 L698.11 1013.71 L699.75 1015.16 L701.39 1016.60 L703.03 1018.04 L704.68 1019.48 L706.33 1020.92 L707.98 1022.35 L709.64 1023.79 L711.31 1025.22 L712.97 1026.65 L714.64 1028.07 L716.32 1029.50 L718.00 1030.92 L719.68 1032.34 L721.37 1033.76 L723.06 1035.18 L724.76 1036.59 L726.45 1038.00 L728.16 1039.41 L729.86 1040.81 L731.58 1042.22 L733.29 1043.62 L735.01 1045.02 L736.73 1046.42 L738.46 1047.81 L740.19 1049.20 L741.93 1050.59 L743.67 1051.98 L745.41 1053.37 L747.16 1054.75 L748.91 1056.13 L750.67 1057.51 L752.43 1058.88 L754.19 1060.26 L755.96 1061.63 L757.73 1062.99 L759.51 1064.36 L761.29 1065.72 L763.07 1067.08 L764.86 1068.44 L766.65 1069.80 L768.45 1071.15 L770.25 1072.50 L772.06 1073.85 L773.86 1075.19 L775.68 1076.54 L777.50 1077.88 L779.32 1079.21 L781.14 1080.55 L782.97 1081.88 L784.81 1083.21 L786.65 1084.54 L788.49 1085.86 L790.34 1087.19 L792.19 1088.50 L794.04 1089.82 L795.90 1091.13 L797.77 1092.45 L799.63 1093.75 L801.51 1095.06 L803.38 1096.36 L805.26 1097.66 L807.15 1098.96 L809.04 1100.26 L810.93 1101.55 L812.83 1102.84 L814.73 1104.12 L816.64 1105.41 L818.55 1106.69 L820.46 1107.97 L822.38 1109.24 L824.31 1110.52 L826.23 1111.79 L828.17 1113.05 L830.10 1114.32 L832.04 1115.58 L833.99 1116.84 L835.94 1118.09 L837.89 1119.35 L839.85 1120.60 L841.81 1121.85 L843.78 1123.09 L845.75 1124.33 L847.72 1125.57 L849.70 1126.81 L851.69 1128.04 L853.68 1129.27 L855.67 1130.50 L857.67 1131.72 L859.67 1132.94 L861.68 1134.16 L863.69 1135.38 L865.70 1136.59 L867.72 1137.80 L869.74 1139.00 L871.77 1140.21 L873.81 1141.41 L875.84 1142.61 L877.88 1143.80 L879.93 1144.99 L881.98 1146.18 L884.04 1147.37 L886.10 1148.55 L888.16 1149.73 L890.23 1150.91 L892.30 1152.08 L894.38 1153.25 L896.46 1154.42 L898.55 1155.58 L900.64 1156.75 L902.73 1157.90 L904.83 1159.06 L906.94 1160.21 L909.05 1161.36 L911.16 1162.51 L913.28 1163.65 L915.40 1164.79 L917.53 1165.93 L919.66 1167.06 L921.80 1168.20 L923.94 1169.32 L926.08 1170.45 L928.23 1171.57 L930.39 1172.69 L932.55 1173.80 L934.71 1174.92 L936.88 1176.03 L939.05 1177.13 L941.23 1178.24 L943.41 1179.34 L945.60 1180.43 L947.79 1181.53 L949.99 1182.62 L952.19 1183.71 L954.39 1184.79 L956.60 1185.87 L958.82 1186.95 L961.04 1188.02 L963.26 1189.10 L965.49 1190.17 L967.72 1191.23 L969.96 1192.29 L972.20 1193.35 L974.45 1194.41 L976.70 1195.46 L978.96 1196.51 L981.22 1197.56 L983.49 1198.60 L985.76 1199.64 L988.03 1200.68 L990.31 1201.71 L992.60 1202.74 L994.89 1203.77 L997.18 1204.80 L999.48 1205.82 L1001.79 1206.84 L1004.10 1207.85 L1006.41 1208.86 L1008.73 1209.87 L1011.05 1210.88 L1013.38 1211.88 L1015.71 1212.88 L1018.05 1213.87 L1020.39 1214.87 L1022.74 1215.86 L1025.09 1216.84 L1027.45 1217.83 L1029.81 1218.81 L1032.18 1219.78 L1034.55 1220.76 L1036.92 1221.73 L1039.30 1222.69 L1041.69 1223.66 L1044.08 1224.62 L1046.48 1225.57 L1048.88 1226.53 L1051.28 1227.48 L1053.69 1228.43 L1056.11 1229.37 L1058.53 1230.31 L1060.95 1231.25 L1063.38 1232.19 L1065.82 1233.12 L1068.26 1234.05 L1070.70 1234.97 L1073.15 1235.89 L1075.61 1236.81 L1078.06 1237.73 L1080.53 1238.64 L1083.00 1239.55 L1085.47 1240.46 L1087.95 1241.36 L1090.44 1242.26 L1092.92 1243.16 L1095.42 1244.05 L1097.92 1244.94 L1100.42 1245.83 L1102.93 1246.71 L1105.44 1247.59 L1107.96 1248.47 L1110.49 1249.34 L1113.02 1250.21 L1115.55 1251.08 L1118.09 1251.95 L1120.63 1252.81 L1123.18 1253.66 L1125.74 1254.52 L1128.30 1255.37 L1130.86 1256.22 L1133.43 1257.07 L1136.00 1257.91 L1138.58 1258.75 L1141.17 1259.58 L1143.76 1260.42 L1146.35 1261.25 L1148.95 1262.07 L1151.56 1262.90 L1154.17 1263.72 L1156.78 1264.53 L1159.40 1265.35 L1162.03 1266.16 L1164.66 1266.97 L1167.29 1267.77 L1169.93 1268.57 L1172.58 1269.37 L1175.23 1270.16 L1177.89 1270.96 L1180.55 1271.74 L1183.21 1272.53 L1185.88 1273.31 L1188.56 1274.09 L1191.24 1274.87 L1193.93 1275.64 L1196.62 1276.41 L1199.32 1277.18 L1202.02 1277.94 L1204.73 1278.70 L1207.44 1279.46 L1210.16 1280.21 L1212.88 1280.97 L1215.61 1281.71 L1218.35 1282.46 L1221.09 1283.20 L1223.83 1283.94 L1226.58 1284.68 L1229.33 1285.41 L1232.09 1286.14 L1234.86 1286.86 L1237.63 1287.59 L1240.41 1288.31 L1243.19 1289.03 L1245.97 1289.74 L1248.77 1290.45 L1251.56 1291.16 L1254.37 1291.87 L1257.17 1292.57 L1259.99 1293.27 L1262.80 1293.96 L1265.63 1294.66 L1268.46 1295.35 L1271.29 1296.03 L1274.13 1296.72 L1276.98 1297.40 L1279.83 1298.08 L1282.68 1298.75 L1285.54 1299.42 L1288.41 1300.09 L1291.28 1300.76 L1294.16 1301.42 L1297.04 1302.08 L1299.93 1302.74 L1302.82 1303.40 L1305.72 1304.05 L1308.62 1304.70 L1311.53 1305.34 L1314.45 1305.98 L1317.37 1306.62 L1320.30 1307.26 L1323.23 1307.89 L1326.16 1308.52 L1329.11 1309.15 L1332.05 1309.78 L1335.01 1310.40 L1337.96 1311.02 L1340.93 1311.64 L1343.90 1312.25 L1346.87 1312.86 L1349.85 1313.47 L1352.84 1314.07 L1355.83 1314.67 L1358.83 1315.27 L1361.83 1315.87 L1364.84 1316.46 L1367.85 1317.05 L1370.87 1317.64 L1373.89 1318.23 L1376.92 1318.81 L1379.96 1319.39 L1383.00 1319.97 L1386.05 1320.54 L1389.10 1321.11 L1392.16 1321.68 L1395.22 1322.24 L1398.29 1322.81 L1401.36 1323.37 L1404.44 1323.92 L1407.53 1324.48 L1410.62 1325.03 L1413.72 1325.58 L1416.82 1326.12 L1419.93 1326.67 L1423.04 1327.21 L1426.16 1327.75 L1429.28 1328.28 L1432.41 1328.81 L1435.55 1329.34 L1438.69 1329.87 L1441.84 1330.40 L1444.99 1330.92 L1448.15 1331.44 L1451.31 1331.95 L1454.48 1332.47 L1457.66 1332.98 L1460.84 1333.49 L1464.03 1333.99 L1467.22 1334.50 L1470.42 1335.00 L1473.62 1335.49 L1476.83 1335.99 L1480.05 1336.48 L1483.27 1336.97 L1486.50 1337.46 L1489.73 1337.95 L1492.97 1338.43 L1496.21 1338.91 L1499.46 1339.39 L1502.72 1339.86 L1505.98 1340.33 L1509.25 1340.80 L1512.52 1341.27 L1515.80 1341.73 L1519.08 1342.20 L1522.37 1342.66 L1525.67 1343.11 L1528.97 1343.57 L1532.28 1344.02 L1535.59 1344.47 L1538.91 1344.92 L1542.24 1345.36 L1545.57 1345.81 L1548.90 1346.25 L1552.25 1346.68 L1555.59 1347.12 L1558.95 1347.55 L1562.31 1347.98 L1565.67 1348.41 L1569.05 1348.83 L1572.42 1349.26 L1575.81 1349.68 L1579.20 1350.10 L1582.59 1350.51 L1585.99 1350.93 L1589.40 1351.34 L1592.81 1351.75 L1596.23 1352.15 L1599.66 1352.56 L1603.09 1352.96 L1606.52 1353.36 L1609.96 1353.76 L1613.41 1354.15 L1616.87 1354.54 L1620.33 1354.93 L1623.79 1355.32 L1627.27 1355.71 L1630.74 1356.09 L1634.23 1356.47 L1637.72 1356.85 L1641.21 1357.23 L1644.72 1357.60 L1648.22 1357.98 L1651.74 1358.35 L1655.26 1358.71 L1658.78 1359.08 L1662.32 1359.44 L1665.85 1359.81 L1669.40 1360.17 L1672.95 1360.52 L1676.50 1360.88 L1680.07 1361.23 L1683.63 1361.58 L1687.21 1361.93 L1690.79 1362.28 L1694.38 1362.62 L1697.97 1362.96 L1701.57 1363.30 L1705.17 1363.64 L1708.78 1363.98 L1712.40 1364.31 L1716.02 1364.64 L1719.65 1364.97 L1723.28 1365.30 L1726.93 1365.63 L1730.57 1365.95 L1734.23 1366.27 L1737.88 1366.59 L1741.55 1366.91 L1745.22 1367.22 L1748.90 1367.54 L1752.58 1367.85 L1756.27 1368.16 L1759.97 1368.47 L1763.67 1368.77 L1767.38 1369.08 L1771.10 1369.38 L1774.82 1369.68 L1778.54 1369.98 L1782.28 1370.27 L1786.02 1370.57 L1789.76 1370.86 L1793.51 1371.15 L1797.27 1371.44 L1801.04 1371.72 L1804.81 1372.01 L1808.58 1372.29 L1812.37 1372.57 L1816.16 1372.85 L1819.95 1373.13 L1823.75 1373.41 L1827.56 1373.68 L1831.37 1373.95 L1835.19 1374.22 L1839.02 1374.49 L1842.85 1374.76 L1846.69 1375.02 L1850.54 1375.28 L1854.39 1375.55 L1858.25 1375.80 L1862.11 1376.06 L1865.98 1376.32 L1869.86 1376.57 L1873.74 1376.82 L1877.63 1377.08 L1881.53 1377.32 L1885.43 1377.57 L1889.34 1377.82 L1893.26 1378.06 L1897.18 1378.30 L1901.11 1378.54 L1905.04 1378.78 L1908.98 1379.02 L1912.93 1379.26 L1916.88 1379.49 L1920.84 1379.72 L1924.81 1379.95 L1928.78 1380.18 L1932.76 1380.41 L1936.74 1380.64 L1940.73 1380.86 L1944.73 1381.08 L1948.74 1381.31 L1952.75 1381.53 L1956.76 1381.74 L1960.79 1381.96 L1964.82 1382.18 L1968.85 1382.39 L1972.90 1382.60 L1976.95 1382.81 L1981.00 1383.02 L1985.07 1383.23 L1989.13 1383.43 L1993.21 1383.64 L1997.29 1383.84 L2001.38 1384.04 L2005.48 1384.24 L2009.58 1384.44 L2013.68 1384.64 L2017.80 1384.83 L2021.92 1385.03 L2026.05 1385.22 L2030.18 1385.41 L2034.32 1385.60 L2038.47 1385.79 L2042.62 1385.98 L2046.78 1386.16 L2050.95 1386.35" stroke="#D95319" stroke-dasharray="9.340 9.340"/>
<path class="ln" d="M196.10 132.78 L197.75 137.98" stroke="#D95319"/>
<path class="ln" d="M2050.45 1386.33 L2055.90 1386.57" stroke="#D95319"/>
<path class="ln" d="M197.60 137.50 L197.83 138.95 L198.06 140.41 L198.30 141.86 L198.53 143.31 L198.76 144.76 L198.99 146.20 L199.22 147.65 L199.45 149.09 L199.69 150.53 L199.92 151.97 L200.15 153.41 L200.38 154.84 L200.61 156.28 L200.85 157.71 L201.08 159.15 L201.31 160.58 L201.54 162.01 L201.78 163.43 L202.01 164.86 L202.24 166.29 L202.47 167.71 L202.71 169.14 L202.94 170.56 L203.17 171.98 L203.41 173.40 L203.64 174.82 L203.87 176.24 L204.11 177.66 L204.34 179.07 L204.57 180.49 L204.81 181.91 L205.04 183.32 L205.28 184.73 L205.51 186.15 L205.75 187.56 L205.98 188.97 L206.22 190.38 L206.45 191.79 L206.69 193.20 L206.93 194.61 L207.16 196.02 L207.40 197.43 L207.63 198.83 L207.87 200.24 L208.11 201.65 L208.35 203.05 L208.58 204.46 L208.82 205.87 L209.06 207.27 L209.30 208.68 L209.54 210.08 L209.77 211.49 L210.01 212.89 L210.25 214.29 L210.49 215.70 L210.73 217.10 L210.97 218.51 L211.21 219.91 L211.46 221.32 L211.70 222.72 L211.94 224.12 L212.18 225.53 L212.42 226.93 L212.67 228.34 L212.91 229.74 L213.15 231.15 L213.40 232.55 L213.64 233.96 L213.88 235.36 L214.13 236.77 L214.37 238.18 L214.62 239.58 L214.87 240.99 L215.11 242.40 L215.36 243.80 L215.61 245.21 L215.85 246.62 L216.10 248.03 L216.35 249.44 L216.60 250.85 L216.85 252.26 L217.10 253.67 L217.35 255.08 L217.60 256.50 L217.85 257.91 L218.10 259.32 L218.36 260.74 L218.61 262.15 L218.86 263.57 L219.11 264.99 L219.37 266.40 L219.62 267.82 L219.88 269.24 L220.13 270.66 L220.39 272.08 L220.65 273.50 L220.90 274.93 L221.16 276.35 L221.42 277.78 L221.68 279.20 L221.94 280.63 L222.20 282.06 L222.46 283.48 L222.72 284.91 L222.98 286.35 L223.24 287.78 L223.51 289.21 L223.77 290.65 L224.03 292.08 L224.30 293.52 L224.56 294.96 L224.83 296.39 L225.09 297.83 L225.36 299.28 L225.63 300.72 L225.90 302.16 L226.17 303.61 L226.43 305.06 L226.70 306.50 L226.98 307.95 L227.25 309.40 L227.52 310.86 L227.79 312.31 L228.07 313.77 L228.34 315.22 L228.61 316.68 L228.89 318.14 L229.17 319.60 L229.44 321.07 L229.72 322.53 L230.00 324.00 L230.28 325.46 L230.56 326.93 L230.84 328.40 L231.12 329.87 L231.40 331.35 L231.68 332.82 L231.97 334.30 L232.25 335.78 L232.54 337.26 L232.82 338.74 L233.11 340.23 L233.39 341.71 L233.68 343.20 L233.97 344.69 L234.26 346.18 L234.55 347.67 L234.84 349.17 L235.13 350.66 L235.43 352.16 L235.72 353.66 L236.02 355.16 L236.31 356.67 L236.61 358.17 L236.90 359.68 L237.20 361.19 L237.50 362.70 L237.80 364.21 L238.10 365.73 L238.40 367.25 L238.70 368.77 L239.01 370.29 L239.31 371.81 L239.61 373.33 L239.92 374.86 L240.23 376.39 L240.53 377.92 L240.84 379.45 L241.15 380.99 L241.46 382.53 L241.77 384.07 L242.09 385.61 L242.40 387.15 L242.71 388.69 L243.03 390.24 L243.34 391.79 L243.66 393.34 L243.98 394.90 L244.30 396.45 L244.62 398.01 L244.94 399.57 L245.26 401.13 L245.58 402.70 L245.91 404.26 L246.23 405.83 L246.56 407.40 L246.88 408.98 L247.21 410.55 L247.54 412.13 L247.87 413.71 L248.20 415.29 L248.53 416.88 L248.87 418.46 L249.20 420.05 L249.54 421.64 L249.87 423.23 L250.21 424.83 L250.55 426.43 L250.89 428.03 L251.23 429.63 L251.57 431.23 L251.91 432.84 L252.26 434.45 L252.60 436.06 L252.95 437.67 L253.29 439.29 L253.64 440.90 L253.99 442.52 L254.34 444.15 L254.69 445.77 L255.05 447.40 L255.40 449.03 L255.76 450.66 L256.11 452.29 L256.47 453.93 L256.83 455.57 L257.19 457.21 L257.55 458.85 L257.91 460.49 L258.27 462.14 L258.64 463.79 L259.00 465.44 L259.37 467.10 L259.74 468.75 L260.11 470.41 L260.48 472.07 L260.85 473.74 L261.23 475.40 L261.60 477.07 L261.98 478.74 L262.35 480.41 L262.73 482.09 L263.11 483.76 L263.49 485.44 L263.87 487.13 L264.26 488.81 L264.64 490.50 L265.03 492.18 L265.41 493.87 L265.80 495.57 L266.19 497.26 L266.58 498.96 L266.98 500.66 L267.37 502.36 L267.77 504.07 L268.16 505.77 L268.56 507.48 L268.96 509.19 L269.36 510.91 L269.76 512.62 L270.17 514.34 L270.57 516.06 L270.98 517.78 L271.38 519.50 L271.79 521.23 L272.20 522.96 L272.61 524.69 L273.03 526.42 L273.44 528.16 L273.86 529.90 L274.27 531.64 L274.69 533.38 L275.11 535.12 L275.53 536.87 L275.96 538.62 L276.38 540.37 L276.81 542.12 L277.24 543.87 L277.66 545.63 L278.09 547.39 L278.53 549.15 L278.96 550.91 L279.39 552.68 L279.83 554.45 L280.27 556.21 L280.71 557.99 L281.15 559.76 L281.59 561.53 L282.03 563.31 L282.48 565.09 L282.93 566.87 L283.38 568.66 L283.83 570.44 L284.28 572.23 L284.73 574.02 L285.18 575.81 L285.64 577.60 L286.10 579.40 L286.56 581.19 L287.02 582.99 L287.48 584.79 L287.94 586.60 L288.41 588.40 L288.88 590.21 L289.35 592.02 L289.82 593.83 L290.29 595.64 L290.76 597.45 L291.24 599.27 L291.72 601.09 L292.19 602.90 L292.67 604.73 L293.16 606.55 L293.64 608.37 L294.13 610.20 L294.61 612.03 L295.10 613.86 L295.59 615.69 L296.08 617.52 L296.58 619.36 L297.07 621.19 L297.57 623.03 L298.07 624.87 L298.57 626.71 L299.07 628.55 L299.57 630.40 L300.08 632.24 L300.59 634.09 L301.10 635.94 L301.61 637.79 L302.12 639.64 L302.63 641.50 L303.15 643.35 L303.67 645.21 L304.19 647.07 L304.71 648.93 L305.23 650.79 L305.76 652.65 L306.28 654.51 L306.81 656.38 L307.34 658.24 L307.88 660.11 L308.41 661.98 L308.95 663.85 L309.48 665.72 L310.02 667.59 L310.56 669.47 L311.11 671.34 L311.65 673.22 L312.20 675.10 L312.75 676.97 L313.30 678.85 L313.85 680.73 L314.41 682.62 L314.96 684.50 L315.52 686.38 L316.08 688.27 L316.64 690.16 L317.21 692.04 L317.77 693.93 L318.34 695.82 L318.91 697.71 L319.48 699.60 L320.05 701.49 L320.63 703.39 L321.21 705.28 L321.79 707.18 L322.37 709.07 L322.95 710.97 L323.54 712.86 L324.12 714.76 L324.71 716.66 L325.30 718.56 L325.90 720.46 L326.49 722.36 L327.09 724.26 L327.69 726.17 L328.29 728.07 L328.89 729.97 L329.50 731.88 L330.10 733.78 L330.71 735.69 L331.32 737.59 L331.94 739.50 L332.55 741.41 L333.17 743.31 L333.79 745.22 L334.41 747.13 L335.03 749.04 L335.66 750.95 L336.29 752.86 L336.92 754.76 L337.55 756.67 L338.18 758.59 L338.82 760.50 L339.46 762.41 L340.10 764.32 L340.74 766.23 L341.38 768.14 L342.03 770.05 L342.68 771.96 L343.33 773.88 L343.98 775.79 L344.64 777.70 L345.29 779.61 L345.95 781.52 L346.62 783.44 L347.28 785.35 L347.95 787.26 L348.61 789.17 L349.28 791.08 L349.96 793.00 L350.63 794.91 L351.31 796.82 L351.99 798.73 L352.67 800.64 L353.35 802.55 L354.04 804.46 L354.73 806.37 L355.42 808.29 L356.11 810.19 L356.80 812.10 L357.50 814.01 L358.20 815.92 L358.90 817.83 L359.61 819.74 L360.31 821.65 L361.02 823.55 L361.73 825.46 L362.44 827.37 L363.16 829.27 L363.88 831.18 L364.60 833.08 L365.32 834.98 L366.04 836.89 L366.77 838.79 L367.50 840.69 L368.23 842.59 L368.96 844.49 L369.70 846.39 L370.44 848.29 L371.18 850.19 L371.92 852.08 L372.67 853.98 L373.42 855.88 L374.17 857.77 L374.92 859.66 L375.68 861.56 L376.43 863.45 L377.19 865.34 L377.96 867.23 L378.72 869.12 L379.49 871.00 L380.26 872.89 L381.03 874.77 L381.80 876.66 L382.58 878.54 L383.36 880.42 L384.14 882.30 L384.93 884.18 L385.71 886.06 L386.50 887.94 L387.29 889.81 L388.09 891.68 L388.88 893.56 L389.68 895.43 L390.49 897.30 L391.29 899.17 L392.10 901.03 L392.90 902.90 L393.72 904.76 L394.53 906.62 L395.35 908.48 L396.17 910.34 L396.99 912.20 L397.81 914.06 L398.64 915.91 L399.47 917.76 L400.30 919.61 L401.14 921.46 L401.97 923.31 L402.81 925.16 L403.65 927.00 L404.50 928.84 L405.35 930.68 L406.20 932.52 L407.05 934.36 L407.90 936.19 L408.76 938.02 L409.62 939.85 L410.49 941.68 L411.35 943.51 L412.22 945.33 L413.09 947.16 L413.97 948.98 L414.84 950.79 L415.72 952.61 L416.60 954.42 L417.49 956.24 L418.37 958.05 L419.26 959.85 L420.16 961.66 L421.05 963.46 L421.95 965.26 L422.85 967.06 L423.75 968.86 L424.66 970.65 L425.57 972.44 L426.48 974.23 L427.39 976.02 L428.31 977.80 L429.23 979.58 L430.15 981.36 L431.08 983.14 L432.00 984.91 L432.93 986.68 L433.87 988.45 L434.80 990.22 L435.74 991.98 L436.68 993.74 L437.63 995.50 L438.58 997.26 L439.53 999.01 L440.48 1000.76 L441.43 1002.51 L442.39 1004.25 L443.35 1006.00 L444.32 1007.74 L445.28 1009.47 L446.25 1011.21 L447.23 1012.94 L448.20 1014.67 L449.18 1016.39 L450.16 1018.11 L451.15 1019.83 L452.13 1021.55 L453.12 1023.26 L454.12 1024.97 L455.11 1026.68 L456.11 1028.38 L457.11 1030.08 L458.12 1031.78 L459.12 1033.48 L460.13 1035.17 L461.15 1036.86 L462.16 1038.54 L463.18 1040.23 L464.20 1041.90 L465.23 1043.58 L466.25 1045.25 L467.29 1046.92 L468.32 1048.59 L469.36 1050.25 L470.40 1051.91 L471.44 1053.57 L472.48 1055.22 L473.53 1056.87 L474.58 1058.52 L475.64 1060.16 L476.70 1061.80 L477.76 1063.43 L478.82 1065.07 L479.89 1066.70 L480.96 1068.32 L482.03 1069.94 L483.10 1071.56 L484.18 1073.18 L485.26 1074.79 L486.35 1076.40 L487.44 1078.00 L488.53 1079.60 L489.62 1081.20 L490.72 1082.79 L491.82 1084.38 L492.92 1085.97 L494.03 1087.55 L495.14 1089.13 L496.25 1090.70 L497.37 1092.28 L498.48 1093.84 L499.61 1095.41 L500.73 1096.97 L501.86 1098.52 L502.99 1100.08 L504.12 1101.62 L505.26 1103.17 L506.40 1104.71 L507.55 1106.25 L508.69 1107.78 L509.84 1109.31 L511.00 1110.83 L512.15 1112.36 L513.31 1113.87 L514.48 1115.39 L515.64 1116.90 L516.81 1118.40 L517.98 1119.90 L519.16 1121.40 L520.34 1122.90 L521.52 1124.38 L522.71 1125.87 L523.89 1127.35 L525.09 1128.83 L526.28 1130.30 L527.48 1131.77 L528.68 1133.24 L529.89 1134.70 L531.09 1136.16 L532.31 1137.61 L533.52 1139.06 L534.74 1140.50 L535.96 1141.94 L537.18 1143.38 L538.41 1144.81 L539.64 1146.24 L540.88 1147.66 L542.11 1149.08 L543.36 1150.50 L544.60 1151.91 L545.85 1153.31 L547.10 1154.72 L548.35 1156.12 L549.61 1157.51 L550.87 1158.90 L552.14 1160.28 L553.40 1161.67 L554.67 1163.04 L555.95 1164.41 L557.23 1165.78 L558.51 1167.15 L559.79 1168.51 L561.08 1169.86 L562.37 1171.21 L563.67 1172.56 L564.97 1173.90 L566.27 1175.24 L567.57 1176.57 L568.88 1177.90 L570.19 1179.22 L571.51 1180.54 L572.83 1181.86 L574.15 1183.17 L575.48 1184.48 L576.81 1185.78 L578.14 1187.08 L579.47 1188.37 L580.81 1189.66 L582.16 1190.94 L583.50 1192.22 L584.85 1193.50 L586.21 1194.77 L587.56 1196.04 L588.93 1197.30 L590.29 1198.56 L591.66 1199.81 L593.03 1201.06 L594.40 1202.30 L595.78 1203.54 L597.16 1204.77 L598.55 1206.00 L599.94 1207.23 L601.33 1208.45 L602.73 1209.67 L604.13 1210.88 L605.53 1212.09 L606.94 1213.29 L608.35 1214.49 L609.76 1215.68 L611.18 1216.87 L612.60 1218.06 L614.02 1219.24 L615.45 1220.41 L616.89 1221.59 L618.32 1222.75 L619.76 1223.91 L621.20 1225.07 L622.65 1226.22 L624.10 1227.37 L625.55 1228.52 L627.01 1229.65 L628.47 1230.79 L629.94 1231.92 L631.41 1233.04 L632.88 1234.17 L634.35 1235.28 L635.83 1236.39 L637.32 1237.50 L638.80 1238.60 L640.30 1239.70 L641.79 1240.79 L643.29 1241.88 L644.79 1242.97 L646.30 1244.05 L647.80 1245.12 L649.32 1246.19 L650.83 1247.26 L652.36 1248.32 L653.88 1249.37 L655.41 1250.43 L656.94 1251.47 L658.48 1252.52 L660.01 1253.55 L661.56 1254.59 L663.11 1255.62 L664.66 1256.64 L666.21 1257.66 L667.77 1258.68 L669.33 1259.69 L670.90 1260.69 L672.47 1261.69 L674.04 1262.69 L675.62 1263.68 L677.20 1264.67 L678.79 1265.66 L680.37 1266.63 L681.97 1267.61 L683.56 1268.58 L685.16 1269.54 L686.77 1270.50 L688.38 1271.46 L689.99 1272.41 L691.61 1273.36 L693.23 1274.30 L694.85 1275.24 L696.48 1276.17 L698.11 1277.10 L699.75 1278.03 L701.39 1278.95 L703.03 1279.86 L704.68 1280.77 L706.33 1281.68 L707.98 1282.58 L709.64 1283.48 L711.31 1284.38 L712.97 1285.26 L714.64 1286.15 L716.32 1287.03 L718.00 1287.90 L719.68 1288.77 L721.37 1289.64 L723.06 1290.50 L724.76 1291.36 L726.45 1292.22 L728.16 1293.06 L729.86 1293.91 L731.58 1294.75 L733.29 1295.59 L735.01 1296.42 L736.73 1297.24 L738.46 1298.07 L740.19 1298.89 L741.93 1299.70 L743.67 1300.51 L745.41 1301.31 L747.16 1302.12 L748.91 1302.91 L750.67 1303.71 L752.43 1304.49 L754.19 1305.28 L755.96 1306.06 L757.73 1306.83 L759.51 1307.60 L761.29 1308.37 L763.07 1309.13 L764.86 1309.89 L766.65 1310.65 L768.45 1311.40 L770.25 1312.14 L772.06 1312.88 L773.86 1313.62 L775.68 1314.35 L777.50 1315.08 L779.32 1315.81 L781.14 1316.53 L782.97 1317.25 L784.81 1317.96 L786.65 1318.67 L788.49 1319.37 L790.34 1320.07 L792.19 1320.77 L794.04 1321.46 L795.90 1322.15 L797.77 1322.83 L799.63 1323.51 L801.51 1324.19 L803.38 1324.86 L805.26 1325.53 L807.15 1326.19 L809.04 1326.85 L810.93 1327.51 L812.83 1328.16 L814.73 1328.81 L816.64 1329.45 L818.55 1330.09 L820.46 1330.73 L822.38 1331.36 L824.31 1331.99 L826.23 1332.61 L828.17 1333.23 L830.10 1333.85 L832.04 1334.46 L833.99 1335.07 L835.94 1335.68 L837.89 1336.28 L839.85 1336.88 L841.81 1337.47 L843.78 1338.06 L845.75 1338.65 L847.72 1339.23 L849.70 1339.81 L851.69 1340.38 L853.68 1340.95 L855.67 1341.52 L857.67 1342.08 L859.67 1342.64 L861.68 1343.20 L863.69 1343.75 L865.70 1344.30 L867.72 1344.85 L869.74 1345.39 L871.77 1345.93 L873.81 1346.46 L875.84 1347.00 L877.88 1347.52 L879.93 1348.05 L881.98 1348.57 L884.04 1349.08 L886.10 1349.60 L888.16 1350.11 L890.23 1350.61 L892.30 1351.12 L894.38 1351.62 L896.46 1352.11 L898.55 1352.61 L900.64 1353.10 L902.73 1353.58 L904.83 1354.06 L906.94 1354.54 L909.05 1355.02 L911.16 1355.49 L913.28 1355.96 L915.40 1356.43 L917.53 1356.89 L919.66 1357.35 L921.80 1357.80 L923.94 1358.26 L926.08 1358.71 L928.23 1359.15 L930.39 1359.59 L932.55 1360.03 L934.71 1360.47 L936.88 1360.90 L939.05 1361.33 L941.23 1361.76 L943.41 1362.19 L945.60 1362.61 L947.79 1363.02 L949.99 1363.44 L952.19 1363.85 L954.39 1364.26 L956.60 1364.66 L958.82 1365.07 L961.04 1365.46 L963.26 1365.86 L965.49 1366.25 L967.72 1366.64 L969.96 1367.03 L972.20 1367.42 L974.45 1367.80 L976.70 1368.18 L978.96 1368.55 L981.22 1368.92 L983.49 1369.29 L985.76 1369.66 L988.03 1370.02 L990.31 1370.39 L992.60 1370.74 L994.89 1371.10 L997.18 1371.45 L999.48 1371.80 L1001.79 1372.15 L1004.10 1372.49 L1006.41 1372.83 L1008.73 1373.17 L1011.05 1373.51 L1013.38 1373.84 L1015.71 1374.17 L1018.05 1374.50 L1020.39 1374.83 L1022.74 1375.15 L1025.09 1375.47 L1027.45 1375.79 L1029.81 1376.10 L1032.18 1376.42 L1034.55 1376.73 L1036.92 1377.03 L1039.30 1377.34 L1041.69 1377.64 L1044.08 1377.94 L1046.48 1378.24 L1048.88 1378.53 L1051.28 1378.82 L1053.69 1379.11 L1056.11 1379.40 L1058.53 1379.69 L1060.95 1379.97 L1063.38 1380.25 L1065.82 1380.53 L1068.26 1380.80 L1070.70 1381.08 L1073.15 1381.35 L1075.61 1381.61 L1078.06 1381.88 L1080.53 1382.14 L1083.00 1382.41 L1085.47 1382.67 L1087.95 1382.92 L1090.44 1383.18 L1092.92 1383.43 L1095.42 1383.68 L1097.92 1383.93 L1100.42 1384.17 L1102.93 1384.42 L1105.44 1384.66 L1107.96 1384.90 L1110.49 1385.14 L1113.02 1385.37 L1115.55 1385.60 L1118.09 1385.83 L1120.63 1386.06 L1123.18 1386.29 L1125.74 1386.51 L1128.30 1386.74 L1130.86 1386.96 L1133.43 1387.18 L1136.00 1387.39 L1138.58 1387.61 L1141.17 1387.82 L1143.76 1388.03 L1146.35 1388.24 L1148.95 1388.45 L1151.56 1388.65 L1154.17 1388.85 L1156.78 1389.06 L1159.40 1389.25 L1162.03 1389.45 L1164.66 1389.65 L1167.29 1389.84 L1169.93 1390.03 L1172.58 1390.22 L1175.23 1390.41 L1177.89 1390.60 L1180.55 1390.78 L1183.21 1390.97 L1185.88 1391.15 L1188.56 1391.33 L1191.24 1391.50 L1193.93 1391.68 L1196.62 1391.85 L1199.32 1392.03 L1202.02 1392.20 L1204.73 1392.37 L1207.44 1392.53 L1210.16 1392.70 L1212.88 1392.86 L1215.61 1393.03 L1218.35 1393.19 L1221.09 1393.35 L1223.83 1393.50 L1226.58 1393.66 L1229.33 1393.81 L1232.09 1393.97 L1234.86 1394.12 L1237.63 1394.27 L1240.41 1394.42 L1243.19 1394.57 L1245.97 1394.71 L1248.77 1394.86 L1251.56 1395.00 L1254.37 1395.14 L1257.17 1395.28 L1259.99 1395.42 L1262.80 1395.55 L1265.63 1395.69 L1268.46 1395.82 L1271.29 1395.96 L1274.13 1396.09 L1276.98 1396.22 L1279.83 1396.35 L1282.68 1396.47 L1285.54 1396.60 L1288.41 1396.72 L1291.28 1396.85 L1294.16 1396.97 L1297.04 1397.09 L1299.93 1397.21 L1302.82 1397.33 L1305.72 1397.44 L1308.62 1397.56 L1311.53 1397.67 L1314.45 1397.79 L1317.37 1397.90 L1320.30 1398.01 L1323.23 1398.12 L1326.16 1398.23 L1329.11 1398.34 L1332.05 1398.44 L1335.01 1398.55 L1337.96 1398.65 L1340.93 1398.75 L1343.90 1398.86 L1346.87 1398.96 L1349.85 1399.05 L1352.84 1399.15 L1355.83 1399.25 L1358.83 1399.35 L1361.83 1399.44 L1364.84 1399.54 L1367.85 1399.63 L1370.87 1399.72 L1373.89 1399.81 L1376.92 1399.90 L1379.96 1399.99 L1383.00 1400.08 L1386.05 1400.16 L1389.10 1400.25 L1392.16 1400.33 L1395.22 1400.42 L1398.29 1400.50 L1401.36 1400.58 L1404.44 1400.66 L1407.53 1400.74 L1410.62 1400.82 L1413.72 1400.90 L1416.82 1400.98 L1419.93 1401.06 L1423.04 1401.13 L1426.16 1401.21 L1429.28 1401.28 L1432.41 1401.35 L1435.55 1401.43 L1438.69 1401.50 L1441.84 1401.57 L1444.99 1401.64 L1448.15 1401.71 L1451.31 1401.77 L1454.48 1401.84 L1457.66 1401.91 L1460.84 1401.97 L1464.03 1402.04 L1467.22 1402.10 L1470.42 1402.16 L1473.62 1402.23 L1476.83 1402.29 L1480.05 1402.35 L1483.27 1402.41 L1486.50 1402.47 L1489.73 1402.53 L1492.97 1402.59 L1496.21 1402.64 L1499.46 1402.70 L1502.72 1402.76 L1505.98 1402.81 L1509.25 1402.87 L1512.52 1402.92 L1515.80 1402.97 L1519.08 1403.03 L1522.37 1403.08 L1525.67 1403.13 L1528.97 1403.18 L1532.28 1403.23 L1535.59 1403.28 L1538.91 1403.33 L1542.24 1403.38 L1545.57 1403.42 L1548.90 1403.47 L1552.25 1403.52 L1555.59 1403.56 L1558.95 1403.61 L1562.31 1403.65 L1565.67 1403.70 L1569.05 1403.74 L1572.42 1403.78 L1575.81 1403.83 L1579.20 1403.87 L1582.59 1403.91 L1585.99 1403.95 L1589.40 1403.99 L1592.81 1404.03 L1596.23 1404.07 L1599.66 1404.11 L1603.09 1404.15 L1606.52 1404.18 L1609.96 1404.22 L1613.41 1404.26 L1616.87 1404.29 L1620.33 1404.33 L1623.79 1404.37 L1627.27 1404.40 L1630.74 1404.43 L1634.23 1404.47 L1637.72 1404.50 L1641.21 1404.53 L1644.72 1404.57 L1648.22 1404.60 L1651.74 1404.63 L1655.26 1404.66 L1658.78 1404.69 L1662.32 1404.72 L1665.85 1404.75 L1669.40 1404.78 L1672.95 1404.81 L1676.50 1404.84 L1680.07 1404.87 L1683.63 1404.90 L1687.21 1404.93 L1690.79 1404.95 L1694.38 1404.98 L1697.97 1405.01 L1701.57 1405.03 L1705.17 1405.06 L1708.78 1405.08 L1712.40 1405.11 L1716.02 1405.13 L1719.65 1405.16 L1723.28 1405.18 L1726.93 1405.21 L1730.57 1405.23 L1734.23 1405.25 L1737.88 1405.28 L1741.55 1405.30 L1745.22 1405.32 L1748.90 1405.34 L1752.58 1405.36 L1756.27 1405.38 L1759.97 1405.41 L1763.67 1405.43 L1767.38 1405.45 L1771.10 1405.47 L1774.82 1405.49 L1778.54 1405.51 L1782.28 1405.52 L1786.02 1405.54 L1789.76 1405.56 L1793.51 1405.58 L1797.27 1405.60 L1801.04 1405.62 L1804.81 1405.63 L1808.58 1405.65 L1812.37 1405.67 L1816.16 1405.68 L1819.95 1405.70 L1823.75 1405.72 L1827.56 1405.73 L1831.37 1405.75 L1835.19 1405.77 L1839.02 1405.78 L1842.85 1405.80 L1846.69 1405.81 L1850.54 1405.83 L1854.39 1405.84 L1858.25 1405.85 L1862.11 1405.87 L1865.98 1405.88 L1869.86 1405.90 L1873.74 1405.91 L1877.63 1405.92 L1881.53 1405.94 L1885.43 1405.95 L1889.34 1405.96 L1893.26 1405.97 L1897.18 1405.99 L1901.11 1406.00 L1905.04 1406.01 L1908.98 1406.02 L1912.93 1406.03 L1916.88 1406.04 L1920.84 1406.05 L1924.81 1406.07 L1928.78 1406.08 L1932.76 1406.09 L1936.74 1406.10 L1940.73 1406.11 L1944.73 1406.12 L1948.74 1406.13 L1952.75 1406.14 L1956.76 1406.15 L1960.79 1406.16 L1964.82 1406.17 L1968.85 1406.18 L1972.90 1406.18 L1976.95 1406.19 L1981.00 1406.20 L1985.07 1406.21 L1989.13 1406.22 L1993.21 1406.23 L1997.29 1406.24 L2001.38 1406.24 L2005.48 1406.25 L2009.58 1406.26 L2013.68 1406.27 L2017.80 1406.28 L2021.92 1406.28 L2026.05 1406.29 L2030.18 1406.30 L2034.32 1406.31 L2038.47 1406.31 L2042.62 1406.32 L2046.78 1406.33 L2050.95 1406.33" stroke="#EDB120" stroke-dasharray="37.360 37.360"/>
<path class="ln" d="M196.82 132.61 L197.68 137.99" stroke="#EDB120"/>
<path class="ln" d="M197.60 137.50 L197.83 145.12 L198.06 152.69 L198.30 160.19 L198.53 167.63 L198.76 175.01 L198.99 182.34 L199.22 189.61 L199.45 196.82 L199.69 203.98 L199.92 211.08 L200.15 218.13 L200.38 225.13 L200.61 232.07 L200.85 238.96 L201.08 245.80 L201.31 252.59 L201.54 259.34 L201.78 266.03 L202.01 272.67 L202.24 279.27 L202.47 285.82 L202.71 292.33 L202.94 298.79 L203.17 305.20 L203.41 311.58 L203.64 317.90 L203.87 324.19 L204.11 330.43 L204.34 336.63 L204.57 342.79 L204.81 348.91 L205.04 354.99 L205.28 361.03 L205.51 367.03 L205.75 372.99 L205.98 378.91 L206.22 384.80 L206.45 390.65 L206.69 396.46 L206.93 402.23 L207.16 407.97 L207.40 413.68 L207.63 419.35 L207.87 424.98 L208.11 430.59 L208.35 436.15 L208.58 441.69 L208.82 447.19 L209.06 452.66 L209.30 458.10 L209.54 463.51 L209.77 468.88 L210.01 474.23 L210.25 479.54 L210.49 484.82 L210.73 490.08 L210.97 495.30 L211.21 500.50 L211.46 505.67 L211.70 510.80 L211.94 515.91 L212.18 521.00 L212.42 526.05 L212.67 531.08 L212.91 536.08 L213.15 541.06 L213.40 546.00 L213.64 550.93 L213.88 555.82 L214.13 560.69 L214.37 565.54 L214.62 570.36 L214.87 575.16 L215.11 579.93 L215.36 584.68 L215.61 589.40 L215.85 594.10 L216.10 598.78 L216.35 603.44 L216.60 608.07 L216.85 612.67 L217.10 617.26 L217.35 621.82 L217.60 626.37 L217.85 630.89 L218.10 635.38 L218.36 639.86 L218.61 644.32 L218.86 648.75 L219.11 653.16 L219.37 657.56 L219.62 661.93 L219.88 666.28 L220.13 670.61 L220.39 674.92 L220.65 679.22 L220.90 683.49 L221.16 687.74 L221.42 691.98 L221.68 696.19 L221.94 700.39 L222.20 704.57 L222.46 708.72 L222.72 712.86 L222.98 716.99 L223.24 721.09 L223.51 725.17 L223.77 729.24 L224.03 733.29 L224.30 737.32 L224.56 741.34 L224.83 745.34 L225.09 749.32 L225.36 753.28 L225.63 757.23 L225.90 761.15 L226.17 765.07 L226.43 768.96 L226.70 772.84 L226.98 776.70 L227.25 780.55 L227.52 784.38 L227.79 788.19 L228.07 791.99 L228.34 795.77 L228.61 799.54 L228.89 803.29 L229.17 807.03 L229.44 810.75 L229.72 814.45 L230.00 818.14 L230.28 821.81 L230.56 825.47 L230.84 829.11 L231.12 832.74 L231.40 836.35 L231.68 839.95 L231.97 843.53 L232.25 847.10 L232.54 850.66 L232.82 854.20 L233.11 857.72 L233.39 861.23 L233.68 864.73 L233.97 868.21 L234.26 871.68 L234.55 875.13 L234.84 878.57 L235.13 882.00 L235.43 885.41 L235.72 888.81 L236.02 892.19 L236.31 895.56 L236.61 898.92 L236.90 902.26 L237.20 905.59 L237.50 908.90 L237.80 912.20 L238.10 915.49 L238.40 918.77 L238.70 922.03 L239.01 925.27 L239.31 928.51 L239.61 931.73 L239.92 934.94 L240.23 938.13 L240.53 941.31 L240.84 944.48 L241.15 947.64 L241.46 950.78 L241.77 953.91 L242.09 957.03 L242.40 960.13 L242.71 963.22 L243.03 966.30 L243.34 969.36 L243.66 972.41 L243.98 975.45 L244.30 978.48 L244.62 981.49 L244.94 984.49 L245.26 987.48 L245.58 990.46 L245.91 993.42 L246.23 996.37 L246.56 999.31 L246.88 1002.24 L247.21 1005.15 L247.54 1008.05 L247.87 1010.94 L248.20 1013.81 L248.53 1016.67 L248.87 1019.52 L249.20 1022.36 L249.54 1025.19 L249.87 1028.00 L250.21 1030.80 L250.55 1033.59 L250.89 1036.37 L251.23 1039.13 L251.57 1041.88 L251.91 1044.62 L252.26 1047.35 L252.60 1050.06 L252.95 1052.77 L253.29 1055.46 L253.64 1058.13 L253.99 1060.80 L254.34 1063.45 L254.69 1066.10 L255.05 1068.73 L255.40 1071.34 L255.76 1073.95 L256.11 1076.54 L256.47 1079.12 L256.83 1081.69 L257.19 1084.25 L257.55 1086.79 L257.91 1089.32 L258.27 1091.84 L258.64 1094.35 L259.00 1096.85 L259.37 1099.33 L259.74 1101.81 L260.11 1104.27 L260.48 1106.72 L260.85 1109.15 L261.23 1111.58 L261.60 1113.99 L261.98 1116.39 L262.35 1118.78 L262.73 1121.15 L263.11 1123.52 L263.49 1125.87 L263.87 1128.21 L264.26 1130.54 L264.64 1132.86 L265.03 1135.16 L265.41 1137.45 L265.80 1139.74 L266.19 1142.00 L266.58 1144.26 L266.98 1146.51 L267.37 1148.74 L267.77 1150.96 L268.16 1153.17 L268.56 1155.37 L268.96 1157.56 L269.36 1159.73 L269.76 1161.89 L270.17 1164.04 L270.57 1166.18 L270.98 1168.31 L271.38 1170.43 L271.79 1172.53 L272.20 1174.62 L272.61 1176.70 L273.03 1178.77 L273.44 1180.83 L273.86 1182.87 L274.27 1184.90 L274.69 1186.93 L275.11 1188.93 L275.53 1190.93 L275.96 1192.92 L276.38 1194.89 L276.81 1196.86 L277.24 1198.81 L277.66 1200.75 L278.09 1202.68 L278.53 1204.59 L278.96 1206.50 L279.39 1208.39 L279.83 1210.27 L280.27 1212.14 L280.71 1214.00 L281.15 1215.85 L281.59 1217.68 L282.03 1219.51 L282.48 1221.32 L282.93 1223.12 L283.38 1224.91 L283.83 1226.69 L284.28 1228.46 L284.73 1230.21 L285.18 1231.96 L285.64 1233.69 L286.10 1235.41 L286.56 1237.12 L287.02 1238.82 L287.48 1240.51 L287.94 1242.18 L288.41 1243.85 L288.88 1245.50 L289.35 1247.15 L289.82 1248.78 L290.29 1250.40 L290.76 1252.01 L291.24 1253.60 L291.72 1255.19 L292.19 1256.77 L292.67 1258.33 L293.16 1259.88 L293.64 1261.43 L294.13 1262.96 L294.61 1264.48 L295.10 1265.99 L295.59 1267.49 L296.08 1268.97 L296.58 1270.45 L297.07 1271.92 L297.57 1273.37 L298.07 1274.81 L298.57 1276.25 L299.07 1277.67 L299.57 1279.08 L300.08 1280.48 L300.59 1281.87 L301.10 1283.25 L301.61 1284.62 L302.12 1285.98 L302.63 1287.33 L303.15 1288.67 L303.67 1289.99 L304.19 1291.31 L304.71 1292.62 L305.23 1293.91 L305.76 1295.20 L306.28 1296.47 L306.81 1297.74 L307.34 1298.99 L307.88 1300.24 L308.41 1301.47 L308.95 1302.69 L309.48 1303.91 L310.02 1305.11 L310.56 1306.31 L311.11 1307.49 L311.65 1308.66 L312.20 1309.83 L312.75 1310.98 L313.30 1312.12 L313.85 1313.26 L314.41 1314.38 L314.96 1315.50 L315.52 1316.60 L316.08 1317.69 L316.64 1318.78 L317.21 1319.85 L317.77 1320.92 L318.34 1321.98 L318.91 1323.02 L319.48 1324.06 L320.05 1325.09 L320.63 1326.11 L321.21 1327.12 L321.79 1328.12 L322.37 1329.11 L322.95 1330.09 L323.54 1331.06 L324.12 1332.02 L324.71 1332.98 L325.30 1333.92 L325.90 1334.86 L326.49 1335.79 L327.09 1336.70 L327.69 1337.61 L328.29 1338.51 L328.89 1339.41 L329.50 1340.29 L330.10 1341.16 L330.71 1342.03 L331.32 1342.89 L331.94 1343.73 L332.55 1344.57 L333.17 1345.41 L333.79 1346.23 L334.41 1347.04 L335.03 1347.85 L335.66 1348.65 L336.29 1349.44 L336.92 1350.22 L337.55 1350.99 L338.18 1351.76 L338.82 1352.52 L339.46 1353.26 L340.10 1354.01 L340.74 1354.74 L341.38 1355.47 L342.03 1356.18 L342.68 1356.89 L343.33 1357.60 L343.98 1358.29 L344.64 1358.98 L345.29 1359.66 L345.95 1360.33 L346.62 1361.00 L347.28 1361.65 L347.95 1362.30 L348.61 1362.95 L349.28 1363.58 L349.96 1364.21 L350.63 1364.83 L351.31 1365.44 L351.99 1366.05 L352.67 1366.65 L353.35 1367.24 L354.04 1367.83 L354.73 1368.41 L355.42 1368.98 L356.11 1369.55 L356.80 1370.11 L357.50 1370.66 L358.20 1371.21 L358.90 1371.75 L359.61 1372.28 L360.31 1372.80 L361.02 1373.32 L361.73 1373.84 L362.44 1374.35 L363.16 1374.85 L363.88 1375.34 L364.60 1375.83 L365.32 1376.31 L366.04 1376.79 L366.77 1377.26 L367.50 1377.73 L368.23 1378.18 L368.96 1378.64 L369.70 1379.09 L370.44 1379.53 L371.18 1379.96 L371.92 1380.39 L372.67 1380.82 L373.42 1381.24 L374.17 1381.65 L374.92 1382.06 L375.68 1382.46 L376.43 1382.86 L377.19 1383.25 L377.96 1383.64 L378.72 1384.02 L379.49 1384.40 L380.26 1384.77 L381.03 1385.13 L381.80 1385.50 L382.58 1385.85 L383.36 1386.20 L384.14 1386.55 L384.93 1386.89 L385.71 1387.23 L386.50 1387.56 L387.29 1387.89 L388.09 1388.21 L388.88 1388.53 L389.68 1388.85 L390.49 1389.16 L391.29 1389.46 L392.10 1389.76 L392.90 1390.06 L393.72 1390.35 L394.53 1390.64 L395.35 1390.92 L396.17 1391.20 L396.99 1391.48 L397.81 1391.75 L398.64 1392.02 L399.47 1392.28 L400.30 1392.54 L401.14 1392.79 L401.97 1393.05 L402.81 1393.29 L403.65 1393.54 L404.50 1393.78 L405.35 1394.02 L406.20 1394.25 L407.05 1394.48 L407.90 1394.70 L408.76 1394.93 L409.62 1395.15 L410.49 1395.36 L411.35 1395.57 L412.22 1395.78 L413.09 1395.99 L413.97 1396.19 L414.84 1396.39 L415.72 1396.59 L416.60 1396.78 L417.49 1396.97 L418.37 1397.15 L419.26 1397.34 L420.16 1397.52 L421.05 1397.70 L421.95 1397.87 L422.85 1398.04 L423.75 1398.21 L424.66 1398.38 L425.57 1398.54 L426.48 1398.70 L427.39 1398.86 L428.31 1399.02 L429.23 1399.17 L430.15 1399.32 L431.08 1399.47 L432.00 1399.61 L432.93 1399.75 L433.87 1399.89 L434.80 1400.03 L435.74 1400.17 L436.68 1400.30 L437.63 1400.43 L438.58 1400.56 L439.53 1400.68 L440.48 1400.81 L441.43 1400.93 L442.39 1401.05 L443.35 1401.17 L444.32 1401.28 L445.28 1401.39 L446.25 1401.51 L447.23 1401.61 L448.20 1401.72 L449.18 1401.83 L450.16 1401.93 L451.15 1402.03 L452.13 1402.13 L453.12 1402.23 L454.12 1402.32 L455.11 1402.42 L456.11 1402.51 L457.11 1402.60 L458.12 1402.69 L459.12 1402.78 L460.13 1402.86 L461.15 1402.95 L462.16 1403.03 L463.18 1403.11 L464.20 1403.19 L465.23 1403.27 L466.25 1403.34 L467.29 1403.42 L468.32 1403.49 L469.36 1403.56 L470.40 1403.63 L471.44 1403.70 L472.48 1403.77 L473.53 1403.84 L474.58 1403.90 L475.64 1403.96 L476.70 1404.03 L477.76 1404.09 L478.82 1404.15 L479.89 1404.21 L480.96 1404.26 L482.03 1404.32 L483.10 1404.38 L484.18 1404.43 L485.26 1404.48 L486.35 1404.53 L487.44 1404.59 L488.53 1404.64 L489.62 1404.68 L490.72 1404.73 L491.82 1404.78 L492.92 1404.82 L494.03 1404.87 L495.14 1404.91 L496.25 1404.96 L497.37 1405.00 L498.48 1405.04 L499.61 1405.08 L500.73 1405.12 L501.86 1405.16 L502.99 1405.19 L504.12 1405.23 L505.26 1405.27 L506.40 1405.30 L507.55 1405.34 L508.69 1405.37 L509.84 1405.40 L511.00 1405.44 L512.15 1405.47 L513.31 1405.50 L514.48 1405.53 L515.64 1405.56 L516.81 1405.59 L517.98 1405.61 L519.16 1405.64 L520.34 1405.67 L521.52 1405.70 L522.71 1405.72 L523.89 1405.75 L525.09 1405.77 L526.28 1405.79 L527.48 1405.82 L528.68 1405.84 L529.89 1405.86 L531.09 1405.88 L532.31 1405.91 L533.52 1405.93 L534.74 1405.95 L535.96 1405.97 L537.18 1405.99 L538.41 1406.00 L539.64 1406.02 L540.88 1406.04 L542.11 1406.06 L543.36 1406.08 L544.60 1406.09 L545.85 1406.11 L547.10 1406.13 L548.35 1406.14 L549.61 1406.16 L550.87 1406.17 L552.14 1406.18 L553.40 1406.20 L554.67 1406.21 L555.95 1406.23 L557.23 1406.24 L558.51 1406.25 L559.79 1406.26 L561.08 1406.28 L562.37 1406.29 L563.67 1406.30 L564.97 1406.31 L566.27 1406.32 L567.57 1406.33 L568.88 1406.34 L570.19 1406.35 L571.51 1406.36 L572.83 1406.37 L574.15 1406.38 L575.48 1406.39 L576.81 1406.40 L578.14 1406.41 L579.47 1406.42 L580.81 1406.42 L582.16 1406.43 L583.50 1406.44 L584.85 1406.45 L586.21 1406.46 L587.56 1406.46 L588.93 1406.47 L590.29 1406.48 L591.66 1406.48 L593.03 1406.49 L594.40 1406.50 L595.78 1406.50 L597.16 1406.51 L598.55 1406.51 L599.94 1406.52 L601.33 1406.52 L602.73 1406.53 L604.13 1406.53 L605.53 1406.54 L606.94 1406.54 L608.35 1406.55 L609.76 1406.55 L611.18 1406.56 L612.60 1406.56 L614.02 1406.57 L615.45 1406.57 L616.89 1406.57 L618.32 1406.58 L619.76 1406.58 L621.20 1406.59 L622.65 1406.59 L624.10 1406.59 L625.55 1406.60 L627.01 1406.60 L628.47 1406.60 L629.94 1406.61 L631.41 1406.61 L632.88 1406.61 L634.35 1406.61 L635.83 1406.62 L637.32 1406.62 L638.80 1406.62 L640.30 1406.62 L641.79 1406.63 L643.29 1406.63 L644.79 1406.63 L646.30 1406.63 L647.80 1406.64 L649.32 1406.64 L650.83 1406.64 L652.36 1406.64 L653.88 1406.64 L655.41 1406.65 L656.94 1406.65 L658.48 1406.65 L660.01 1406.65 L661.56 1406.65 L663.11 1406.65 L664.66 1406.66 L666.21 1406.66 L667.77 1406.66 L669.33 1406.66 L670.90 1406.66 L672.47 1406.66 L674.04 1406.66 L675.62 1406.67 L677.20 1406.67 L678.79 1406.67 L680.37 1406.67 L681.97 1406.67 L683.56 1406.67 L685.16 1406.67 L686.77 1406.67 L688.38 1406.67 L689.99 1406.67 L691.61 1406.68 L693.23 1406.68 L694.85 1406.68 L696.48 1406.68 L698.11 1406.68 L699.75 1406.68 L701.39 1406.68 L703.03 1406.68 L704.68 1406.68 L706.33 1406.68 L707.98 1406.68 L709.64 1406.68 L711.31 1406.68 L712.97 1406.68 L714.64 1406.69 L716.32 1406.69 L718.00 1406.69 L719.68 1406.69 L721.37 1406.69 L723.06 1406.69 L724.76 1406.69 L726.45 1406.69 L728.16 1406.69 L729.86 1406.69 L731.58 1406.69 L733.29 1406.69 L735.01 1406.69 L736.73 1406.69 L738.46 1406.69 L740.19 1406.69 L741.93 1406.69 L743.67 1406.69 L745.41 1406.69 L747.16 1406.69 L748.91 1406.69 L750.67 1406.69 L752.43 1406.69 L754.19 1406.69 L755.96 1406.69 L757.73 1406.69 L759.51 1406.69 L761.29 1406.69 L763.07 1406.69 L764.86 1406.70 L766.65 1406.70 L768.45 1406.70 L770.25 1406.70 L772.06 1406.70 L773.86 1406.70 L775.68 1406.70 L777.50 1406.70 L779.32 1406.70 L781.14 1406.70 L782.97 1406.70 L784.81 1406.70 L786.65 1406.70 L788.49 1406.70 L790.34 1406.70 L792.19 1406.70 L794.04 1406.70 L795.90 1406.70 L797.77 1406.70 L799.63 1406.70 L801.51 1406.70 L803.38 1406.70 L805.26 1406.70 L807.15 1406.70 L809.04 1406.70 L810.93 1406.70 L812.83 1406.70 L814.73 1406.70 L816.64 1406.70 L818.55 1406.70 L820.46 1406.70 L822.38 1406.70 L824.31 1406.70 L826.23 1406.70 L828.17 1406.70 L830.10 1406.70 L832.04 1406.70 L833.99 1406.70 L835.94 1406.70 L837.89 1406.70 L839.85 1406.70 L841.81 1406.70 L843.78 1406.70 L845.75 1406.70 L847.72 1406.70 L849.70 1406.70 L851.69 1406.70 L853.68 1406.70 L855.67 1406.70 L857.67 1406.70 L859.67 1406.70 L861.68 1406.70 L863.69 1406.70 L865.70 1406.70 L867.72 1406.70 L869.74 1406.70 L871.77 1406.70 L873.81 1406.70 L875.84 1406.70 L877.88 1406.70 L879.93 1406.70 L881.98 1406.70 L884.04 1406.70 L886.10 1406.70 L888.16 1406.70 L890.23 1406.70 L892.30 1406.70 L894.38 1406.70 L896.46 1406.70 L898.55 1406.70 L900.64 1406.70 L902.73 1406.70 L904.83 1406.70 L906.94 1406.70 L909.05 1406.70 L911.16 1406.70 L913.28 1406.70 L915.40 1406.70 L917.53 1406.70 L919.66 1406.70 L921.80 1406.70 L923.94 1406.70 L926.08 1406.70 L928.23 1406.70 L930.39 1406.70 L932.55 1406.70 L934.71 1406.70 L936.88 1406.70 L939.05 1406.70 L941.23 1406.70 L943.41 1406.70 L945.60 1406.70 L947.79 1406.70 L949.99 1406.70 L952.19 1406.70 L954.39 1406.70 L956.60 1406.70 L958.82 1406.70 L961.04 1406.70 L963.26 1406.70 L965.49 1406.70 L967.72 1406.70 L969.96 1406.70 L972.20 1406.70 L974.45 1406.70 L976.70 1406.70 L978.96 1406.70 L981.22 1406.70 L983.49 1406.70 L985.76 1406.70 L988.03 1406.70 L990.31 1406.70 L992.60 1406.70 L994.89 1406.70 L997.18 1406.70 L999.48 1406.70 L1001.79 1406.70 L1004.10 1406.70 L1006.41 1406.70 L1008.73 1406.70 L1011.05 1406.70 L1013.38 1406.70 L1015.71 1406.70 L1018.05 1406.70 L1020.39 1406.70 L1022.74 1406.70 L1025.09 1406.70 L1027.45 1406.70 L1029.81 1406.70 L1032.18 1406.70 L1034.55 1406.70 L1036.92 1406.70 L1039.30 1406.70 L1041.69 1406.70 L1044.08 1406.70 L1046.48 1406.70 L1048.88 1406.70 L1051.28 1406.70 L1053.69 1406.70 L1056.11 1406.70 L1058.53 1406.70 L1060.95 1406.70 L1063.38 1406.70 L1065.82 1406.70 L1068.26 1406.70 L1070.70 1406.70 L1073.15 1406.70 L1075.61 1406.70 L1078.06 1406.70 L1080.53 1406.70 L1083.00 1406.70 L1085.47 1406.70 L1087.95 1406.70 L1090.44 1406.70 L1092.92 1406.70 L1095.42 1406.70 L1097.92 1406.70 L1100.42 1406.70 L1102.93 1406.70 L1105.44 1406.70 L1107.96 1406.70 L1110.49 1406.70 L1113.02 1406.70 L1115.55 1406.70 L1118.09 1406.70 L1120.63 1406.70 L1123.18 1406.70 L1125.74 1406.70 L1128.30 1406.70 L1130.86 1406.70 L1133.43 1406.70 L1136.00 1406.70 L1138.58 1406.70 L1141.17 1406.70 L1143.76 1406.70 L1146.35 1406.70 L1148.95 1406.70 L1151.56 1406.70 L1154.17 1406.70 L1156.78 1406.70 L1159.40 1406.70 L1162.03 1406.70 L1164.66 1406.70 L1167.29 1406.70 L1169.93 1406.70 L1172.58 1406.70 L1175.23 1406.70 L1177.89 1406.70 L1180.55 1406.70 L1183.21 1406.70 L1185.88 1406.70 L1188.56 1406.70 L1191.24 1406.70 L1193.93 1406.70 L1196.62 1406.70 L1199.32 1406.70 L1202.02 1406.70 L1204.73 1406.70 L1207.44 1406.70 L1210.16 1406.70 L1212.88 1406.70 L1215.61 1406.70 L1218.35 1406.70 L1221.09 1406.70 L1223.83 1406.70 L1226.58 1406.70 L1229.33 1406.70 L1232.09 1406.70 L1234.86 1406.70 L1237.63 1406.70 L1240.41 1406.70 L1243.19 1406.70 L1245.97 1406.70 L1248.77 1406.70 L1251.56 1406.70 L1254.37 1406.70 L1257.17 1406.70 L1259.99 1406.70 L1262.80 1406.70 L1265.63 1406.70 L1268.46 1406.70 L1271.29 1406.70 L1274.13 1406.70 L1276.98 1406.70 L1279.83 1406.70 L1282.68 1406.70 L1285.54 1406.70 L1288.41 1406.70 L1291.28 1406.70 L1294.16 1406.70 L1297.04 1406.70 L1299.93 1406.70 L1302.82 1406.70 L1305.72 1406.70 L1308.62 1406.70 L1311.53 1406.70 L1314.45 1406.70 L1317.37 1406.70 L1320.30 1406.70 L1323.23 1406.70 L1326.16 1406.70 L1329.11 1406.70 L1332.05 1406.70 L1335.01 1406.70 L1337.96 1406.70 L1340.93 1406.70 L1343.90 1406.70 L1346.87 1406.70 L1349.85 1406.70 L1352.84 1406.70 L1355.83 1406.70 L1358.83 1406.70 L1361.83 1406.70 L1364.84 1406.70 L1367.85 1406.70 L1370.87 1406.70 L1373.89 1406.70 L1376.92 1406.70 L1379.96 1406.70 L1383.00 1406.70 L1386.05 1406.70 L1389.10 1406.70 L1392.16 1406.70 L1395.22 1406.70 L1398.29 1406.70 L1401.36 1406.70 L1404.44 1406.70 L1407.53 1406.70 L1410.62 1406.70 L1413.72 1406.70 L1416.82 1406.70 L1419.93 1406.70 L1423.04 1406.70 L1426.16 1406.70 L1429.28 1406.70 L1432.41 1406.70 L1435.55 1406.70 L1438.69 1406.70 L1441.84 1406.70 L1444.99 1406.70 L1448.15 1406.70 L1451.31 1406.70 L1454.48 1406.70 L1457.66 1406.70 L1460.84 1406.70 L1464.03 1406.70 L1467.22 1406.70 L1470.42 1406.70 L1473.62 1406.70 L1476.83 1406.70 L1480.05 1406.70 L1483.27 1406.70 L1486.50 1406.70 L1489.73 1406.70 L1492.97 1406.70 L1496.21 1406.70 L1499.46 1406.70 L1502.72 1406.70 L1505.98 1406.70 L1509.25 1406.70 L1512.52 1406.70 L1515.80 1406.70 L1519.08 1406.70 L1522.37 1406.70 L1525.67 1406.70 L1528.97 1406.70 L1532.28 1406.70 L1535.59 1406.70 L1538.91 1406.70 L1542.24 1406.70 L1545.57 1406.70 L1548.90 1406.70 L1552.25 1406.70 L1555.59 1406.70 L1558.95 1406.70 L1562.31 1406.70 L1565.67 1406.70 L1569.05 1406.70 L1572.42 1406.70 L1575.81 1406.70 L1579.20 1406.70 L1582.59 1406.70 L1585.99 1406.70 L1589.40 1406.70 L1592.81 1406.70 L1596.23 1406.70 L1599.66 1406.70 L1603.09 1406.70 L1606.52 1406.70 L1609.96 1406.70 L1613.41 1406.70 L1616.87 1406.70 L1620.33 1406.70 L1623.79 1406.70 L1627.27 1406.70 L1630.74 1406.70 L1634.23 1406.70 L1637.72 1406.70 L1641.21 1406.70 L1644.72 1406.70 L1648.22 1406.70 L1651.74 1406.70 L1655.26 1406.70 L1658.78 1406.70 L1662.32 1406.70 L1665.85 1406.70 L1669.40 1406.70 L1672.95 1406.70 L1676.50 1406.70 L1680.07 1406.70 L1683.63 1406.70 L1687.21 1406.70 L1690.79 1406.70 L1694.38 1406.70 L1697.97 1406.70 L1701.57 1406.70 L1705.17 1406.70 L1708.78 1406.70 L1712.40 1406.70 L1716.02 1406.70 L1719.65 1406.70 L1723.28 1406.70 L1726.93 1406.70 L1730.57 1406.70 L1734.23 1406.70 L1737.88 1406.70 L1741.55 1406.70 L1745.22 1406.70 L1748.90 1406.70 L1752.58 1406.70 L1756.27 1406.70 L1759.97 1406.70 L1763.67 1406.70 L1767.38 1406.70 L1771.10 1406.70 L1774.82 1406.70 L1778.54 1406.70 L1782.28 1406.70 L1786.02 1406.70 L1789.76 1406.70 L1793.51 1406.70 L1797.27 1406.70 L1801.04 1406.70 L1804.81 1406.70 L1808.58 1406.70 L1812.37 1406.70 L1816.16 1406.70 L1819.95 1406.70 L1823.75 1406.70 L1827.56 1406.70 L1831.37 1406.70 L1835.19 1406.70 L1839.02 1406.70 L1842.85 1406.70 L1846.69 1406.70 L1850.54 1406.70 L1854.39 1406.70 L1858.25 1406.70 L1862.11 1406.70 L1865.98 1406.70 L1869.86 1406.70 L1873.74 1406.70 L1877.63 1406.70 L1881.53 1406.70 L1885.43 1406.70 L1889.34 1406.70 L1893.26 1406.70 L1897.18 1406.70 L1901.11 1406.70 L1905.04 1406.70 L1908.98 1406.70 L1912.93 1406.70 L1916.88 1406.70 L1920.84 1406.70 L1924.81 1406.70 L1928.78 1406.70 L1932.76 1406.70 L1936.74 1406.70 L1940.73 1406.70 L1944.73 1406.70 L1948.74 1406.70 L1952.75 1406.70 L1956.76 1406.70 L1960.79 1406.70 L1964.82 1406.70 L1968.85 1406.70 L1972.90 1406.70 L1976.95 1406.70 L1981.00 1406.70 L1985.07 1406.70 L1989.13 1406.70 L1993.21 1406.70 L1997.29 1406.70 L2001.38 1406.70 L2005.48 1406.70 L2009.58 1406.70 L2013.68 1406.70 L2017.80 1406.70 L2021.92 1406.70 L2026.05 1406.70 L2030.18 1406.70 L2034.32 1406.70 L2038.47 1406.70 L2042.62 1406.70 L2046.78 1406.70 L2050.95 1406.70" stroke="#7E2F8E" stroke-linecap="square"/>
<rect x="1634.4" y="176.0" width="369.70" height="252.30" fill="#fff" class="ax"/>
<line class="ln" x1="1653.6" y1="211.2" x2="1751.4" y2="211.2" stroke="#0072BD" stroke-dasharray="37.360 9.340 18.680 9.340"/>
<line class="ln" x1="1648.6499999999999" y1="211.2" x2="1654.1" y2="211.2" stroke="#0072BD"/>
<line class="ln" x1="1750.9" y1="211.2" x2="1756.3500000000001" y2="211.2" stroke="#0072BD"/>
<text class="leg" transform="translate(1760.30,230.90) scale(1.005,1.055)" text-anchor="start">r = 0.002</text>
<line class="ln" x1="1653.6" y1="271.85" x2="1751.4" y2="271.85" stroke="#D95319" stroke-dasharray="9.340 9.340"/>
<line class="ln" x1="1648.6499999999999" y1="271.85" x2="1654.1" y2="271.85" stroke="#D95319"/>
<line class="ln" x1="1750.9" y1="271.85" x2="1756.3500000000001" y2="271.85" stroke="#D95319"/>
<text class="leg" transform="translate(1760.30,291.40) scale(1.005,1.055)" text-anchor="start">r = 0.010</text>
<line class="ln" x1="1653.6" y1="332.5" x2="1751.4" y2="332.5" stroke="#EDB120" stroke-dasharray="37.360 37.360"/>
<line class="ln" x1="1648.6499999999999" y1="332.5" x2="1654.1" y2="332.5" stroke="#EDB120"/>
<line class="ln" x1="1750.9" y1="332.5" x2="1756.3500000000001" y2="332.5" stroke="#EDB120"/>
<text class="leg" transform="translate(1760.30,351.80) scale(1.005,1.055)" text-anchor="start">r = 0.020</text>
<line class="ln" x1="1653.6" y1="393.15" x2="1751.4" y2="393.15" stroke="#7E2F8E" stroke-linecap="square"/>
<text class="leg" transform="translate(1760.30,412.20) scale(1.005,1.055)" text-anchor="start">r = 0.100</text>
</svg></body></html>
